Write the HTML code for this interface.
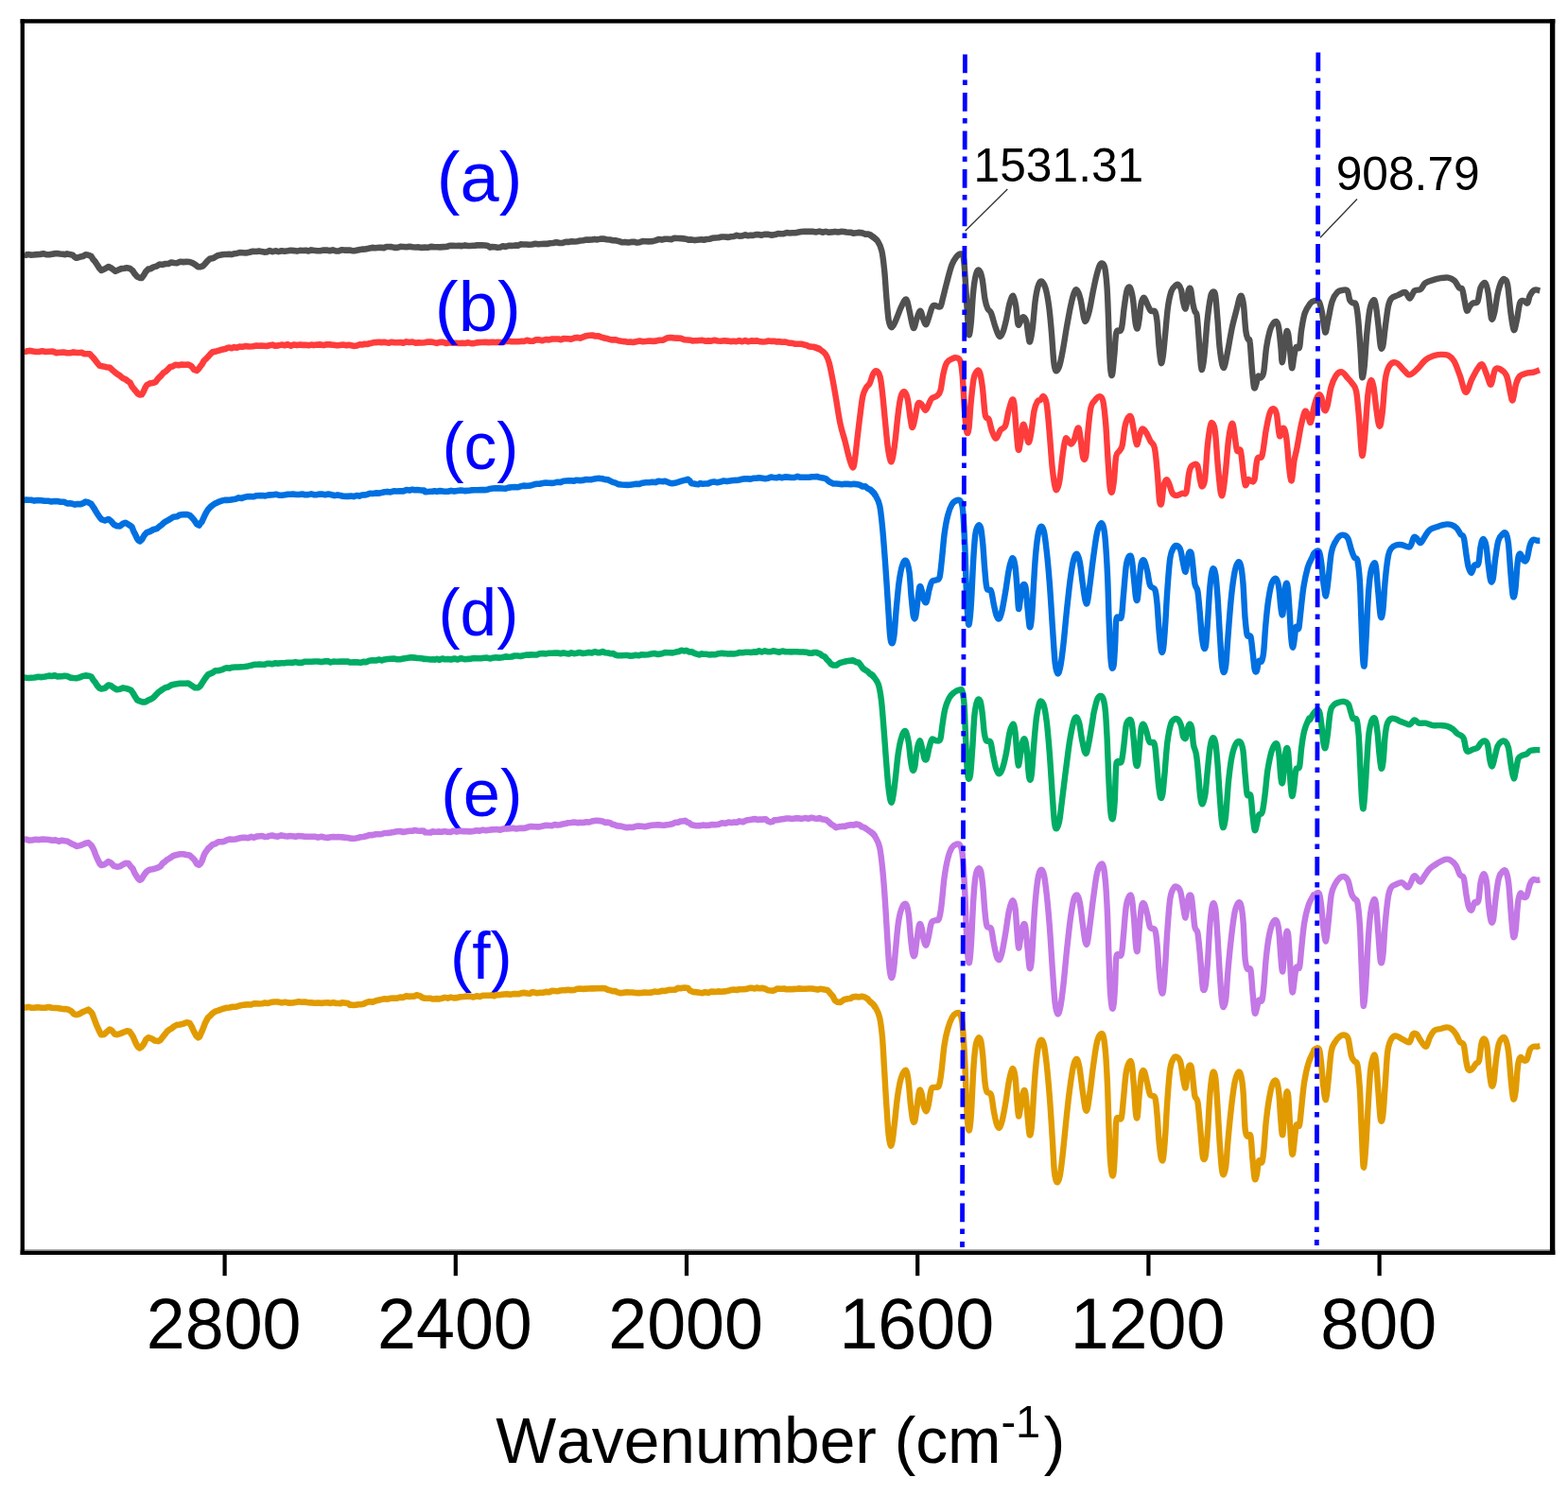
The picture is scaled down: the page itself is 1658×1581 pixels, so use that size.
<!DOCTYPE html>
<html lang="en"><head><meta charset="utf-8"><title>FTIR spectra</title>
<style>
html,body{margin:0;padding:0;background:#fff;}
body{width:1658px;height:1581px;overflow:hidden;}
svg{display:block;}
text{font-family:"Liberation Sans",Arial,sans-serif;font-kerning:none;}
.tk{font-size:73.6px;fill:#000;text-anchor:middle;}
.lb{font-size:74px;fill:#0000ff;text-anchor:middle;}
.an{font-size:49.7px;fill:#000;}
.ax{font-size:67.7px;fill:#000;}
.cv{fill:none;stroke-linejoin:round;stroke-linecap:butt;}
</style></head>
<body>
<svg width="1658" height="1581" viewBox="0 0 1658 1581">
<rect x="0" y="0" width="1658" height="1581" fill="#fff"/>
<defs><clipPath id="plot"><rect x="26" y="24" width="1613" height="1298"/></clipPath></defs>
<g>
<text class="lb" style="font-size:74px" x="507.1" y="212.8">(a)</text>
<text class="lb" style="font-size:69.5px" x="508" y="495.9">(c)</text>
<text class="lb" style="font-size:69.5px" x="505.9" y="672.2">(d)</text>
<text class="lb" style="font-size:70.5px" x="509.3" y="862.6">(e)</text>
<text class="lb" style="font-size:69.5px" x="508.8" y="1035.1">(f)</text>
</g>
<g clip-path="url(#plot)">
<path class="cv" stroke="#e19b00" stroke-width="6.6" d="M25.6 1064.9L27.6 1065.5L30.1 1064.9L33.2 1065.7L36.6 1065.6L40.3 1065.3L44.1 1065.7L47.9 1065.7L51.5 1065.0L54.9 1065.8L57.9 1066.0L60.3 1066.0L65.0 1066.8L68.0 1067.1L70.1 1067.1L72.4 1067.7L75.4 1069.3L78.1 1072.3L80.8 1073.1L84.1 1072.2L87.5 1070.1L90.5 1069.0L93.4 1067.6L96.5 1070.5L97.6 1072.1L98.9 1075.7L100.2 1079.1L101.6 1082.9L103.0 1086.0L104.4 1089.1L105.8 1092.1L107.1 1094.3L110.2 1093.9L113.3 1090.9L116.1 1088.5L118.6 1090.0L121.0 1093.5L123.6 1094.1L127.1 1093.1L131.0 1091.5L134.2 1090.3L136.9 1090.8L139.3 1094.1L140.8 1096.5L142.4 1100.4L144.2 1104.4L146.0 1107.2L147.8 1108.4L150.0 1106.8L152.2 1103.8L154.4 1099.2L156.8 1097.2L160.3 1098.3L163.9 1100.6L167.4 1101.1L169.7 1099.9L171.9 1096.9L174.1 1094.2L176.4 1091.1L178.9 1088.9L181.4 1087.6L184.1 1085.4L187.0 1083.9L190.3 1083.5L193.9 1082.6L197.4 1081.2L200.5 1081.9L202.6 1085.5L204.4 1089.4L206.1 1092.8L207.8 1095.8L209.6 1097.3L211.0 1096.4L212.4 1093.0L213.8 1090.0L215.2 1086.6L216.8 1082.2L218.4 1079.0L220.1 1076.0L222.5 1073.9L224.8 1071.5L227.5 1069.7L230.8 1068.7L235.2 1067.0L237.5 1066.3L240.1 1065.7L242.9 1065.5L245.9 1064.8L249.1 1064.8L252.4 1063.8L255.7 1063.1L259.0 1062.6L262.3 1062.3L265.5 1062.5L268.5 1061.3L271.4 1061.4L274.5 1061.5L277.3 1061.3L280.0 1060.5L282.5 1060.9L285.0 1060.4L287.6 1059.7L290.5 1059.5L293.7 1059.5L297.4 1060.4L301.6 1059.8L304.0 1060.4L306.6 1060.6L309.4 1060.5L312.5 1059.9L315.7 1059.3L319.0 1059.7L322.4 1059.6L325.8 1060.3L329.3 1060.4L332.9 1060.7L336.3 1060.5L339.8 1060.9L343.1 1060.5L346.4 1060.3L349.5 1060.9L352.4 1060.2L355.2 1061.0L357.7 1061.0L359.9 1061.3L361.9 1060.2L367.9 1061.0L370.0 1062.9L371.0 1062.4L373.9 1062.9L376.2 1062.8L378.7 1062.2L381.4 1062.3L384.3 1061.8L387.4 1060.2L390.6 1059.2L394.0 1059.6L397.5 1058.3L401.1 1057.5L403.8 1056.9L406.7 1056.3L409.8 1056.6L413.0 1055.7L416.4 1055.6L419.8 1055.7L423.1 1054.6L426.4 1054.9L429.6 1053.3L432.6 1053.9L435.5 1053.6L438.0 1053.7L440.3 1052.3L444.0 1053.2L445.4 1054.0L446.5 1055.0L449.2 1055.7L455.4 1055.7L457.3 1056.5L459.5 1056.4L462.0 1056.1L464.6 1056.4L467.4 1055.7L470.3 1054.9L473.4 1055.6L476.6 1054.6L479.9 1055.4L483.3 1055.1L486.7 1054.2L490.2 1054.0L493.6 1053.6L497.1 1053.6L500.6 1054.5L504.0 1053.3L507.4 1054.0L510.7 1052.7L513.9 1052.8L516.9 1052.8L519.9 1052.5L522.6 1053.2L525.2 1052.0L529.0 1052.1L532.6 1051.5L536.1 1051.2L539.5 1051.8L542.7 1051.1L545.8 1051.1L548.9 1051.2L551.8 1050.1L554.6 1049.9L557.4 1050.5L560.1 1050.8L562.8 1049.2L565.4 1049.6L567.9 1050.2L570.5 1049.8L574.1 1049.8L577.5 1048.9L580.7 1049.2L583.8 1047.7L586.7 1048.0L589.5 1048.3L592.3 1047.5L595.0 1047.3L597.8 1047.1L600.6 1046.8L603.8 1047.1L607.1 1047.0L610.3 1045.7L613.6 1045.5L616.7 1045.9L619.7 1045.6L622.6 1045.5L625.3 1045.2L627.8 1045.4L631.5 1045.3L634.5 1045.3L637.2 1045.1L639.8 1045.3L642.8 1046.8L645.4 1047.4L647.8 1048.1L650.2 1048.0L653.0 1049.4L656.5 1050.3L660.9 1049.5L663.3 1049.3L665.9 1049.5L668.8 1049.5L671.9 1050.0L675.1 1050.1L678.5 1049.9L681.9 1049.6L685.3 1049.8L688.7 1049.6L691.9 1048.6L695.1 1049.0L698.0 1048.5L700.7 1047.7L703.2 1048.0L707.3 1046.9L711.0 1046.7L714.1 1046.6L716.9 1044.9L719.4 1045.2L721.8 1044.7L724.3 1044.5L727.5 1045.1L729.6 1047.5L732.5 1048.9L737.8 1049.4L740.1 1049.8L742.7 1050.1L745.6 1049.1L748.8 1049.9L752.2 1048.6L755.7 1048.9L759.2 1048.4L762.8 1048.7L766.4 1048.4L769.8 1047.8L773.2 1046.8L776.2 1046.6L779.1 1047.0L781.6 1046.3L785.8 1046.2L789.5 1045.9L792.7 1044.9L795.5 1044.9L798.0 1045.5L800.3 1044.5L802.7 1045.3L806.3 1044.9L809.3 1045.7L811.9 1047.3L814.7 1047.5L817.0 1047.7L818.9 1047.3L821.7 1045.5L826.8 1045.7L829.0 1045.5L831.5 1046.2L834.5 1046.1L837.6 1046.1L841.0 1045.9L844.5 1045.4L848.1 1045.8L851.7 1045.7L855.2 1045.5L858.5 1045.5L861.6 1046.1L864.5 1046.6L867.0 1045.8L869.0 1046.1L874.6 1046.9L876.4 1048.7L878.1 1050.7L880.6 1053.4L882.9 1057.9L885.6 1059.7L888.7 1059.9L892.2 1057.3L896.2 1056.3L899.0 1056.0L902.2 1054.2L905.5 1053.9L908.6 1054.4L911.3 1053.7L914.8 1054.7L917.5 1056.4L920.0 1059.4L923.5 1062.3L925.8 1066.0"/>
<path class="cv" stroke="#e19b00" stroke-width="6.4" d="M920.0 1058.9C921.0 1060.0 924.1 1062.5 925.8 1065.5C927.5 1068.4 929.0 1070.9 930.2 1076.4C931.4 1081.8 932.2 1088.5 933.1 1098.2C933.9 1107.9 934.5 1122.4 935.3 1134.5C936.0 1146.7 936.7 1160.0 937.5 1170.9C938.2 1181.8 938.9 1193.2 939.6 1200.0C940.4 1206.8 941.1 1210.9 941.8 1211.6C942.5 1212.4 943.3 1208.7 944.0 1204.4C944.7 1200.0 945.3 1193.0 946.2 1185.5C947.0 1177.9 948.0 1166.8 949.1 1159.3C950.2 1151.8 951.3 1145.0 952.7 1140.4C954.1 1135.8 956.2 1131.4 957.5 1131.6C958.8 1131.9 959.5 1135.8 960.4 1141.8C961.3 1147.9 962.1 1161.0 962.9 1168.0C963.7 1175.0 964.4 1181.1 965.1 1184.0C965.8 1186.9 966.5 1187.6 967.3 1185.5C968.0 1183.3 968.7 1176.2 969.5 1170.9C970.3 1165.6 971.2 1155.9 972.1 1153.5C972.9 1151.0 973.8 1153.7 974.5 1156.4C975.3 1159.0 975.9 1166.3 976.7 1169.5C977.5 1172.6 978.5 1175.5 979.3 1175.3C980.2 1175.0 980.9 1171.9 981.8 1168.0C982.7 1164.1 983.6 1155.0 984.7 1152.0C985.8 1149.0 987.0 1150.4 988.4 1149.8C989.7 1149.2 991.6 1150.9 992.7 1148.4C993.9 1145.8 994.4 1141.7 995.3 1134.5C996.3 1127.4 997.4 1113.2 998.5 1105.5C999.7 1097.7 1000.8 1092.8 1002.2 1088.0C1003.5 1083.2 1005.0 1079.2 1006.5 1076.4C1008.1 1073.6 1010.2 1071.9 1011.6 1071.3C1013.1 1070.7 1014.3 1070.7 1015.3 1072.7C1016.3 1074.8 1016.9 1075.8 1017.7 1083.6C1018.5 1091.5 1019.4 1106.7 1020.1 1120.0C1020.8 1133.3 1021.3 1152.2 1021.8 1163.6C1022.4 1175.0 1022.7 1183.2 1023.3 1188.4C1023.8 1193.6 1024.4 1196.6 1025.0 1194.9C1025.6 1193.2 1026.2 1188.2 1026.9 1178.2C1027.6 1168.1 1028.4 1146.2 1029.1 1134.5C1029.8 1122.9 1030.4 1114.4 1031.3 1108.4C1032.1 1102.3 1033.2 1099.5 1034.2 1098.2C1035.2 1096.8 1036.2 1097.2 1037.1 1100.4C1037.9 1103.5 1038.5 1109.7 1039.3 1117.1C1040.0 1124.5 1040.7 1138.4 1041.5 1144.7C1042.2 1151.0 1042.5 1152.7 1043.6 1154.9C1044.7 1157.1 1046.8 1154.4 1048.0 1157.8C1049.2 1161.2 1049.9 1170.2 1050.9 1175.3C1051.9 1180.4 1052.8 1185.5 1053.8 1188.4C1054.8 1191.3 1055.8 1193.2 1056.7 1192.7C1057.7 1192.2 1058.5 1189.8 1059.6 1185.5C1060.7 1181.1 1062.1 1173.6 1063.3 1166.5C1064.5 1159.5 1065.7 1149.3 1066.9 1143.3C1068.1 1137.2 1069.5 1130.9 1070.5 1130.2C1071.6 1129.5 1072.7 1133.3 1073.5 1138.9C1074.3 1144.5 1074.7 1156.7 1075.3 1163.6C1076.0 1170.5 1076.4 1179.4 1077.1 1180.4C1077.7 1181.3 1078.5 1173.5 1079.3 1169.5C1080.0 1165.5 1080.7 1158.8 1081.5 1156.4C1082.3 1153.9 1083.2 1151.0 1084.1 1154.9C1084.9 1158.8 1085.8 1172.1 1086.5 1179.6C1087.3 1187.2 1088.0 1198.1 1088.7 1200.0C1089.5 1201.9 1090.2 1198.5 1090.9 1191.3C1091.6 1184.0 1092.4 1167.0 1093.1 1156.4C1093.8 1145.7 1094.4 1135.8 1095.3 1127.3C1096.1 1118.8 1097.2 1110.1 1098.2 1105.5C1099.2 1100.8 1100.1 1099.6 1101.1 1099.6C1102.1 1099.6 1103.0 1100.8 1104.0 1105.5C1105.0 1110.1 1105.9 1118.3 1106.9 1127.3C1107.9 1136.2 1108.8 1146.7 1109.8 1159.3C1110.8 1171.9 1111.9 1189.6 1112.7 1202.9C1113.6 1216.2 1114.1 1231.4 1114.9 1239.3C1115.7 1247.2 1116.6 1249.5 1117.5 1250.2C1118.5 1250.9 1119.7 1248.4 1120.7 1243.6C1121.7 1238.9 1122.5 1231.5 1123.6 1221.8C1124.7 1212.1 1126.1 1196.8 1127.3 1185.5C1128.5 1174.1 1129.6 1163.2 1130.9 1153.5C1132.2 1143.8 1133.7 1132.8 1135.0 1127.3C1136.2 1121.7 1137.4 1119.8 1138.5 1120.0C1139.5 1120.2 1140.3 1123.2 1141.4 1128.7C1142.4 1134.3 1143.7 1146.2 1144.7 1153.5C1145.8 1160.7 1146.8 1169.2 1147.6 1172.4C1148.5 1175.5 1149.0 1175.5 1149.8 1172.4C1150.7 1169.2 1151.6 1161.5 1152.7 1153.5C1153.8 1145.5 1155.1 1133.1 1156.4 1124.4C1157.6 1115.6 1158.8 1106.3 1160.2 1101.1C1161.5 1095.9 1163.4 1093.6 1164.5 1093.1C1165.7 1092.6 1166.4 1094.4 1167.2 1098.2C1167.9 1101.9 1168.5 1107.2 1169.2 1115.6C1169.9 1124.1 1170.5 1136.2 1171.1 1149.1C1171.6 1161.9 1172.1 1179.9 1172.5 1192.7C1173.0 1205.6 1173.4 1217.9 1174.0 1226.2C1174.6 1234.4 1175.3 1240.0 1175.9 1242.2C1176.5 1244.4 1177.1 1243.9 1177.6 1239.3C1178.2 1234.7 1178.6 1223.8 1179.1 1214.5C1179.6 1205.3 1179.5 1189.3 1180.5 1184.0C1181.6 1178.7 1184.4 1185.9 1185.6 1182.5C1186.8 1179.2 1187.0 1171.6 1187.8 1163.6C1188.7 1155.6 1189.6 1141.3 1190.7 1134.5C1191.8 1127.8 1193.3 1124.4 1194.4 1122.9C1195.4 1121.5 1196.1 1121.5 1196.8 1125.8C1197.6 1130.2 1198.3 1140.6 1199.0 1149.1C1199.7 1157.6 1200.3 1171.4 1200.9 1176.7C1201.5 1182.1 1202.0 1184.0 1202.7 1181.1C1203.3 1178.2 1203.8 1166.8 1204.5 1159.3C1205.3 1151.8 1206.1 1140.4 1207.0 1136.0C1207.9 1131.6 1208.9 1131.4 1209.9 1133.1C1211.0 1134.8 1212.2 1142.1 1213.3 1146.2C1214.3 1150.3 1214.8 1155.4 1216.2 1157.8C1217.5 1160.2 1220.1 1157.3 1221.3 1160.7C1222.5 1164.1 1222.7 1170.4 1223.5 1178.2C1224.2 1185.9 1224.9 1199.5 1225.6 1207.3C1226.4 1215.0 1227.1 1221.8 1227.8 1224.7C1228.5 1227.6 1229.3 1228.8 1230.0 1224.7C1230.7 1220.6 1231.5 1210.2 1232.2 1200.0C1232.9 1189.8 1233.5 1175.3 1234.4 1163.6C1235.2 1152.0 1236.2 1137.6 1237.3 1130.2C1238.4 1122.8 1239.7 1121.3 1240.9 1119.3C1242.1 1117.2 1243.3 1117.2 1244.5 1117.8C1245.8 1118.4 1247.1 1119.2 1248.2 1122.9C1249.3 1126.7 1250.2 1135.8 1251.1 1140.4C1252.0 1145.0 1252.8 1151.3 1253.6 1150.5C1254.3 1149.8 1254.8 1139.9 1255.5 1136.0C1256.1 1132.1 1256.6 1128.5 1257.3 1127.3C1258.1 1126.1 1259.1 1125.8 1259.8 1128.7C1260.5 1131.6 1261.1 1139.6 1261.7 1144.7C1262.3 1149.8 1262.7 1155.9 1263.5 1159.3C1264.2 1162.7 1265.5 1160.7 1266.4 1165.1C1267.2 1169.5 1267.8 1177.7 1268.5 1185.5C1269.3 1193.2 1270.1 1205.1 1270.7 1211.6C1271.3 1218.2 1271.5 1223.0 1272.2 1224.7C1272.9 1226.4 1274.0 1227.2 1274.8 1221.8C1275.6 1216.5 1276.5 1203.6 1277.3 1192.7C1278.0 1181.8 1278.6 1166.1 1279.5 1156.4C1280.3 1146.7 1281.4 1137.2 1282.4 1134.5C1283.3 1131.9 1284.4 1134.3 1285.3 1140.4C1286.1 1146.4 1286.7 1159.8 1287.5 1170.9C1288.2 1182.1 1288.9 1196.6 1289.6 1207.3C1290.4 1217.9 1291.1 1229.1 1291.8 1234.9C1292.5 1240.7 1293.0 1242.4 1293.7 1242.2C1294.4 1241.9 1295.4 1239.3 1296.2 1233.5C1297.0 1227.6 1297.4 1217.7 1298.4 1207.3C1299.3 1196.8 1300.8 1181.3 1302.0 1170.9C1303.2 1160.5 1304.4 1150.9 1305.6 1144.7C1306.9 1138.5 1308.5 1134.8 1309.7 1133.8C1310.9 1132.8 1311.8 1135.2 1312.6 1138.9C1313.4 1142.7 1314.0 1147.4 1314.7 1156.4C1315.3 1165.3 1315.9 1185.2 1316.5 1192.7C1317.2 1200.2 1317.8 1200.0 1318.7 1201.5C1319.7 1202.9 1321.4 1197.3 1322.4 1201.5C1323.3 1205.6 1323.8 1218.7 1324.5 1226.2C1325.3 1233.7 1326.0 1243.9 1326.7 1246.5C1327.5 1249.2 1328.2 1245.3 1328.9 1242.2C1329.6 1239.0 1330.2 1229.8 1331.1 1227.6C1332.0 1225.5 1333.5 1231.3 1334.4 1229.1C1335.3 1226.9 1335.7 1221.8 1336.5 1214.5C1337.2 1207.3 1337.9 1193.9 1338.8 1185.5C1339.7 1177.0 1340.6 1170.2 1341.7 1163.6C1342.8 1157.1 1344.3 1149.6 1345.6 1146.2C1346.9 1142.8 1348.5 1141.8 1349.6 1143.3C1350.7 1144.7 1351.4 1147.9 1352.2 1154.9C1353.0 1161.9 1353.7 1177.9 1354.4 1185.5C1355.0 1193.0 1355.6 1201.9 1356.3 1200.0C1356.9 1198.1 1357.6 1181.1 1358.3 1173.8C1358.9 1166.5 1359.6 1159.0 1360.2 1156.4C1360.8 1153.7 1361.5 1153.0 1362.1 1157.8C1362.7 1162.7 1363.2 1176.0 1363.8 1185.5C1364.4 1194.9 1365.0 1208.7 1365.6 1214.5C1366.1 1220.4 1366.5 1222.1 1367.0 1220.4C1367.6 1218.7 1368.3 1209.5 1368.9 1204.4C1369.5 1199.3 1370.0 1192.2 1370.8 1189.8C1371.6 1187.4 1373.1 1193.0 1374.0 1189.8C1374.9 1186.7 1375.3 1178.4 1376.2 1170.9C1377.0 1163.4 1377.9 1152.5 1379.1 1144.7C1380.3 1137.0 1381.9 1129.7 1383.5 1124.4C1385.0 1119.0 1387.5 1115.1 1388.5 1112.7C1389.6 1110.3 1388.8 1110.6 1389.8 1110.0C1390.8 1109.4 1393.4 1106.8 1394.7 1109.2C1395.9 1111.7 1396.3 1117.8 1397.1 1124.7C1397.9 1131.6 1398.7 1144.4 1399.5 1150.7C1400.4 1157.1 1401.2 1164.0 1402.0 1162.9C1402.8 1161.9 1403.5 1152.8 1404.4 1144.2C1405.4 1135.7 1406.5 1118.7 1407.7 1111.7C1408.9 1104.6 1410.3 1104.5 1411.8 1101.9C1413.2 1099.3 1415.0 1097.4 1416.6 1096.2C1418.3 1095.0 1420.0 1094.1 1421.5 1094.6C1423.0 1095.0 1424.4 1095.0 1425.6 1098.6C1426.8 1102.3 1427.8 1112.6 1428.9 1116.5C1429.9 1120.5 1431.0 1120.6 1432.1 1122.2C1433.2 1123.9 1434.4 1121.6 1435.4 1126.3C1436.3 1131.1 1437.1 1140.7 1437.8 1150.7C1438.5 1160.8 1438.9 1174.1 1439.4 1186.6C1440.0 1199.0 1440.6 1217.8 1441.1 1225.6C1441.5 1233.5 1441.7 1236.2 1442.2 1233.8C1442.8 1231.3 1443.6 1222.1 1444.3 1211.0C1445.1 1199.9 1446.0 1180.3 1446.8 1167.0C1447.6 1153.7 1448.3 1139.6 1449.2 1131.2C1450.2 1122.8 1451.5 1118.2 1452.5 1116.5C1453.4 1114.9 1454.1 1115.2 1454.9 1121.4C1455.7 1127.7 1456.5 1143.7 1457.4 1154.0C1458.2 1164.3 1459.0 1179.0 1459.8 1183.3C1460.6 1187.6 1461.4 1186.0 1462.2 1180.0C1463.1 1174.1 1463.9 1158.6 1464.7 1147.5C1465.5 1136.4 1466.2 1121.2 1467.1 1113.3C1468.1 1105.4 1469.0 1103.2 1470.4 1100.3C1471.7 1097.3 1473.5 1095.8 1475.3 1095.4C1477.0 1095.0 1479.1 1096.9 1481.0 1097.8C1482.9 1098.8 1485.0 1100.4 1486.7 1101.1C1488.3 1101.7 1489.5 1103.1 1490.7 1101.9C1492.0 1100.7 1492.8 1095.1 1494.0 1093.7C1495.2 1092.4 1496.7 1092.7 1498.1 1093.7C1499.4 1094.8 1500.5 1098.1 1502.1 1100.3C1503.8 1102.4 1506.2 1107.3 1507.8 1106.8C1509.5 1106.2 1510.4 1099.8 1511.9 1097.0C1513.4 1094.1 1514.9 1091.2 1516.8 1089.7C1518.7 1088.2 1521.1 1088.6 1523.3 1088.0C1525.5 1087.5 1527.9 1086.4 1529.8 1086.4C1531.7 1086.4 1533.1 1086.8 1534.7 1088.0C1536.3 1089.3 1538.1 1091.4 1539.6 1093.7C1541.1 1096.0 1542.3 1100.0 1543.7 1101.9C1545.0 1103.8 1546.6 1101.9 1547.7 1105.1C1548.8 1108.4 1549.4 1117.1 1550.2 1121.4C1551.0 1125.8 1551.5 1129.7 1552.6 1131.2C1553.7 1132.7 1555.3 1131.5 1556.7 1130.4C1558.0 1129.3 1559.5 1126.2 1560.8 1124.7C1562.0 1123.2 1563.1 1125.0 1564.0 1121.4C1565.0 1117.9 1565.6 1107.3 1566.5 1103.5C1567.3 1099.7 1568.3 1098.4 1569.2 1098.6C1570.2 1098.9 1571.3 1099.7 1572.2 1105.1C1573.1 1110.6 1573.8 1124.1 1574.6 1131.2C1575.4 1138.3 1576.2 1145.3 1577.0 1147.5C1577.9 1149.7 1578.7 1148.6 1579.5 1144.2C1580.3 1139.9 1581.0 1128.2 1581.9 1121.4C1582.8 1114.6 1583.8 1107.4 1584.9 1103.5C1585.9 1099.6 1587.3 1098.6 1588.4 1097.8C1589.6 1097.0 1590.6 1096.3 1591.7 1098.6C1592.8 1100.9 1593.9 1104.1 1595.0 1111.7C1596.0 1119.3 1597.0 1135.8 1597.9 1144.2C1598.8 1152.6 1599.4 1160.5 1600.2 1162.1C1601.0 1163.8 1601.8 1160.0 1602.6 1154.0C1603.4 1148.0 1604.2 1132.3 1605.1 1126.3C1605.9 1120.3 1606.6 1119.0 1607.7 1118.2C1608.7 1117.4 1610.1 1121.0 1611.2 1121.4C1612.4 1121.8 1613.4 1122.5 1614.5 1120.6C1615.6 1118.7 1616.6 1112.3 1617.8 1110.0C1618.9 1107.7 1620.1 1107.3 1621.3 1106.8C1622.6 1106.2 1623.9 1106.9 1625.1 1106.8C1626.3 1106.6 1627.8 1106.1 1628.3 1106.0"/>
<path class="cv" stroke="#c378e6" stroke-width="6.6" d="M25.6 888.1L27.7 887.6L30.5 888.6L33.8 888.5L37.5 887.8L41.4 888.1L45.2 887.6L48.3 887.8L51.6 888.0L55.1 888.8L58.6 888.4L62.1 889.7L65.4 888.8L68.3 889.3L70.9 889.5L75.6 892.2L78.6 893.6L81.4 894.9L84.7 894.1L87.7 893.0L90.5 891.8L93.4 891.1L96.5 893.9L97.8 896.0L99.3 898.9L100.9 903.5L102.5 907.1L104.1 910.6L105.7 913.8L107.1 915.0L110.9 914.0L114.6 911.1L117.5 912.7L120.6 915.9L123.6 916.6L126.8 916.3L129.9 914.3L132.7 912.8L135.7 913.0L138.7 916.9L140.4 918.6L142.2 922.9L144.1 926.1L146.0 929.0L147.8 930.7L149.7 929.6L151.3 926.8L153.1 924.1L155.3 921.5L158.1 919.7L161.2 919.3L164.5 918.4L167.4 917.3L169.8 916.0L172.0 913.0L174.1 911.5L176.4 909.4L179.7 907.5L183.2 905.0L187.0 904.0L190.2 903.3L193.8 903.2L197.3 903.9L200.5 904.5L203.3 906.9L205.8 909.6L208.1 913.6L210.5 914.6L212.1 913.3L213.5 910.6L215.0 906.3L216.5 902.6L218.2 900.1L220.1 897.4L222.5 895.4L224.8 893.1L227.4 892.4L230.8 890.2L235.2 890.2L237.5 889.6L240.1 888.3L242.9 887.5L245.9 887.7L249.1 887.5L252.4 886.6L255.7 885.9L259.0 885.8L262.3 886.3L265.5 884.9L268.5 885.8L271.4 884.6L274.5 884.3L277.3 884.0L280.0 885.0L282.5 884.8L285.0 883.9L287.6 883.5L290.5 884.3L293.7 884.6L297.4 883.4L301.6 884.3L304.0 884.6L306.6 884.1L309.4 884.3L312.5 884.7L315.7 884.0L319.0 884.2L322.4 884.8L325.8 884.7L329.3 884.8L332.9 884.7L336.3 885.6L339.8 884.8L343.1 885.5L346.4 885.9L349.5 885.3L352.4 884.9L355.2 885.3L357.7 885.1L359.9 885.3L361.9 885.4L367.9 886.0L370.0 886.4L371.0 886.7L373.9 886.7L376.2 886.5L378.7 886.1L381.3 885.2L384.1 885.0L387.2 884.3L390.4 883.1L393.8 883.1L397.3 882.2L401.1 882.2L403.7 882.0L406.6 881.0L409.7 880.9L412.9 880.6L416.3 880.0L419.7 879.3L423.1 879.0L426.5 880.0L429.8 879.3L433.0 878.7L436.0 878.7L438.7 878.0L441.2 878.5L443.3 878.7L447.3 878.6L448.2 878.8L449.7 880.3L455.4 880.5L457.3 879.2L459.4 879.7L461.8 879.7L464.4 879.4L467.2 879.8L470.1 879.1L473.2 879.8L476.4 879.9L479.7 878.7L483.0 879.4L486.5 878.7L490.0 879.1L493.5 879.1L497.0 879.4L500.5 879.0L503.9 878.2L507.3 878.6L510.6 877.6L513.8 878.3L516.9 877.7L519.9 877.4L522.6 877.2L525.2 877.1L529.0 877.7L532.6 876.5L536.1 876.4L539.5 876.1L542.7 875.8L545.8 876.4L548.9 875.9L551.8 875.8L554.6 875.9L557.4 875.0L560.1 874.1L562.8 874.1L565.4 874.3L567.9 874.4L570.5 874.4L574.1 873.5L577.5 872.8L580.6 873.0L583.6 873.2L586.5 872.0L589.3 872.6L592.1 872.2L594.8 871.5L597.7 871.1L600.6 870.3L603.7 870.0L606.9 869.6L610.2 870.1L613.6 869.9L616.8 870.0L620.0 869.2L623.1 869.5L625.9 868.5L628.5 868.0L630.8 867.8L634.9 868.1L637.6 868.8L639.8 869.9L642.8 869.6L645.2 870.2L647.5 871.8L650.0 872.3L652.9 873.4L656.5 873.6L660.9 874.9L663.3 875.1L665.9 874.8L668.8 875.0L671.9 874.1L675.1 873.5L678.5 873.7L681.9 874.3L685.3 873.5L688.7 872.8L691.9 872.5L695.1 872.3L698.0 872.4L700.7 872.8L703.2 872.6L707.4 871.9L711.0 871.2L714.2 869.7L717.0 869.8L719.5 868.5L721.9 868.5L724.3 867.8L727.1 869.7L728.8 870.2L731.2 872.3L736.3 873.2L738.4 873.1L740.9 873.1L743.6 872.5L746.6 872.9L749.7 872.8L753.1 872.1L756.5 872.3L759.9 871.8L763.4 870.3L766.8 870.8L770.2 869.6L773.3 870.1L776.3 869.4L779.1 869.8L781.6 868.4L785.7 869.2L789.4 867.4L792.8 866.9L795.9 866.4L798.7 866.1L801.2 867.0L803.5 866.5L805.7 866.6L809.7 866.3L812.1 868.5L814.7 869.4L816.8 868.9L818.7 867.4L821.6 867.3L826.8 866.3L829.0 866.1L831.5 865.5L834.3 865.5L837.5 865.9L840.8 865.4L844.2 865.3L847.7 865.9L851.2 865.1L854.7 865.8L858.1 864.7L861.2 865.4L864.2 865.8L866.8 865.0L869.0 866.3L873.7 867.0L876.7 869.5L878.9 871.6L881.1 872.8L884.1 875.1L886.9 874.3L890.1 873.9L893.5 873.9L896.9 872.7L900.1 872.2L902.9 872.6L905.2 871.5L909.0 872.5L911.3 874.4L914.1 875.2L917.2 877.4L920.0 879.4L923.5 882.0L925.8 884.9"/>
<path class="cv" stroke="#c378e6" stroke-width="6.4" d="M920.0 878.9C921.0 880.0 924.1 882.5 925.8 885.5C927.5 888.4 929.0 890.9 930.2 896.4C931.4 901.8 932.1 908.5 933.1 918.2C934.1 927.9 935.2 942.4 936.0 954.5C936.8 966.7 937.5 979.5 938.2 990.9C938.9 1002.3 939.6 1015.8 940.4 1022.9C941.1 1030.1 941.8 1033.1 942.5 1033.8C943.3 1034.5 944.0 1032.0 944.7 1027.3C945.5 1022.5 946.1 1013.9 946.9 1005.5C947.8 997.0 948.7 983.9 949.8 976.4C950.9 968.8 952.1 963.8 953.5 960.4C954.8 957.0 956.6 955.0 957.8 956.0C959.0 957.0 959.9 960.4 960.7 966.2C961.6 972.0 962.2 983.9 962.9 990.9C963.6 997.9 964.4 1005.2 965.1 1008.4C965.8 1011.5 966.5 1012.2 967.3 1009.8C968.0 1007.4 968.7 999.2 969.5 993.8C970.3 988.5 971.2 980.0 972.1 977.8C972.9 975.6 973.8 978.1 974.5 980.7C975.3 983.4 975.9 990.7 976.7 993.8C977.5 997.0 978.5 1000.1 979.3 999.6C980.2 999.2 980.9 994.8 981.8 990.9C982.7 987.0 983.6 979.3 984.7 976.4C985.8 973.5 987.0 974.2 988.4 973.5C989.7 972.7 991.6 974.4 992.7 972.0C993.9 969.6 994.4 966.2 995.3 958.9C996.3 951.6 997.4 936.8 998.5 928.4C999.7 919.9 1000.8 913.3 1002.2 908.0C1003.5 902.7 1005.0 898.9 1006.5 896.4C1008.1 893.8 1010.2 893.1 1011.6 892.7C1013.1 892.4 1014.3 892.4 1015.3 894.2C1016.3 896.0 1016.9 896.0 1017.7 903.6C1018.5 911.3 1019.4 926.7 1020.1 940.0C1020.8 953.3 1021.3 972.0 1021.8 983.6C1022.4 995.3 1022.7 1004.1 1023.3 1009.8C1023.8 1015.5 1024.4 1019.8 1025.0 1017.8C1025.6 1015.9 1026.2 1008.7 1026.9 998.2C1027.6 987.6 1028.4 966.2 1029.1 954.5C1029.8 942.9 1030.4 934.3 1031.3 928.4C1032.1 922.4 1033.2 920.1 1034.2 918.9C1035.2 917.7 1036.2 918.1 1037.1 921.1C1037.9 924.1 1038.5 929.8 1039.3 937.1C1040.0 944.4 1040.7 957.7 1041.5 964.7C1042.2 971.8 1042.5 976.4 1043.6 979.3C1044.7 982.2 1046.8 979.0 1048.0 982.2C1049.2 985.3 1049.9 993.3 1050.9 998.2C1051.9 1003.0 1052.8 1008.5 1053.8 1011.3C1054.8 1014.1 1055.8 1015.6 1056.7 1014.9C1057.7 1014.2 1058.5 1011.6 1059.6 1006.9C1060.7 1002.2 1062.1 993.8 1063.3 986.5C1064.5 979.3 1065.7 969.0 1066.9 963.3C1068.1 957.6 1069.5 952.8 1070.5 952.4C1071.6 951.9 1072.7 955.2 1073.5 960.4C1074.3 965.6 1074.7 976.6 1075.3 983.6C1076.0 990.7 1076.4 1001.3 1077.1 1002.5C1077.7 1003.8 1078.5 994.8 1079.3 990.9C1080.0 987.0 1080.7 981.2 1081.5 979.3C1082.3 977.3 1083.2 975.4 1084.1 979.3C1084.9 983.2 1085.8 995.2 1086.5 1002.5C1087.3 1009.9 1088.0 1021.7 1088.7 1023.6C1089.5 1025.6 1090.2 1022.1 1090.9 1014.2C1091.6 1006.3 1092.4 987.5 1093.1 976.4C1093.8 965.2 1094.4 955.8 1095.3 947.3C1096.1 938.8 1097.2 930.1 1098.2 925.5C1099.2 920.8 1100.1 919.6 1101.1 919.6C1102.1 919.6 1103.0 920.8 1104.0 925.5C1105.0 930.1 1105.9 938.3 1106.9 947.3C1107.9 956.2 1108.8 966.7 1109.8 979.3C1110.8 991.9 1111.8 1009.3 1112.7 1022.9C1113.7 1036.5 1114.7 1052.5 1115.6 1060.7C1116.6 1069.0 1117.6 1071.9 1118.5 1072.4C1119.5 1072.8 1120.5 1068.7 1121.5 1063.6C1122.4 1058.5 1123.3 1051.5 1124.4 1041.8C1125.5 1032.1 1126.8 1016.8 1128.0 1005.5C1129.2 994.1 1130.4 982.4 1131.6 973.5C1132.8 964.5 1134.1 956.1 1135.3 951.6C1136.5 947.2 1137.8 946.1 1138.9 946.5C1140.0 947.0 1140.8 949.6 1141.8 954.5C1142.8 959.5 1143.8 969.5 1144.7 976.4C1145.7 983.3 1146.8 992.6 1147.6 996.0C1148.5 999.4 1149.0 1000.0 1149.8 996.7C1150.7 993.5 1151.6 984.6 1152.7 976.4C1153.8 968.1 1155.1 956.2 1156.4 947.3C1157.6 938.3 1158.8 928.1 1160.2 922.5C1161.5 917.0 1163.4 914.5 1164.5 913.8C1165.7 913.1 1166.4 914.5 1167.2 918.2C1167.9 921.8 1168.5 927.2 1169.2 935.6C1169.9 944.1 1170.5 956.2 1171.1 969.1C1171.6 981.9 1172.1 999.4 1172.5 1012.7C1173.0 1026.1 1173.4 1040.2 1174.0 1049.1C1174.6 1057.9 1175.3 1063.6 1175.9 1065.8C1176.5 1068.0 1177.1 1066.2 1177.6 1062.2C1178.2 1058.2 1178.6 1050.3 1179.1 1041.8C1179.6 1033.3 1179.5 1016.6 1180.5 1011.3C1181.6 1005.9 1184.4 1013.2 1185.6 1009.8C1186.8 1006.4 1187.0 999.4 1187.8 990.9C1188.7 982.4 1189.6 966.2 1190.7 958.9C1191.8 951.6 1193.3 948.7 1194.4 947.3C1195.4 945.8 1196.1 946.3 1196.8 950.2C1197.6 954.1 1198.3 962.5 1199.0 970.5C1199.7 978.5 1200.3 992.4 1200.9 998.2C1201.5 1004.0 1202.0 1007.9 1202.7 1005.5C1203.3 1003.0 1203.8 991.4 1204.5 983.6C1205.3 975.9 1206.1 963.5 1207.0 958.9C1207.9 954.3 1208.9 954.5 1209.9 956.0C1211.0 957.5 1212.2 963.5 1213.3 967.6C1214.3 971.8 1214.8 978.1 1216.2 980.7C1217.5 983.4 1220.1 980.7 1221.3 983.6C1222.5 986.5 1222.7 990.9 1223.5 998.2C1224.2 1005.5 1224.9 1019.0 1225.6 1027.3C1226.4 1035.5 1227.1 1044.2 1227.8 1047.6C1228.5 1051.0 1229.3 1052.2 1230.0 1047.6C1230.7 1043.0 1231.5 1030.7 1232.2 1020.0C1232.9 1009.3 1233.5 995.3 1234.4 983.6C1235.2 972.0 1236.2 957.6 1237.3 950.2C1238.4 942.8 1239.7 941.3 1240.9 939.3C1242.1 937.2 1243.3 937.2 1244.5 937.8C1245.8 938.4 1247.1 939.4 1248.2 942.9C1249.3 946.4 1250.2 954.3 1251.1 958.9C1252.0 963.5 1252.8 971.0 1253.6 970.5C1254.3 970.1 1254.8 959.9 1255.5 956.0C1256.1 952.1 1256.6 948.5 1257.3 947.3C1258.1 946.1 1259.1 945.8 1259.8 948.7C1260.5 951.6 1261.1 959.4 1261.7 964.7C1262.3 970.1 1262.7 977.1 1263.5 980.7C1264.2 984.4 1265.5 982.4 1266.4 986.5C1267.2 990.7 1267.8 997.9 1268.5 1005.5C1269.3 1013.0 1270.1 1024.8 1270.7 1031.6C1271.3 1038.4 1271.5 1044.5 1272.2 1046.2C1272.9 1047.9 1274.0 1047.4 1274.8 1041.8C1275.6 1036.2 1276.5 1023.6 1277.3 1012.7C1278.0 1001.8 1278.6 985.8 1279.5 976.4C1280.3 966.9 1281.4 958.4 1282.4 956.0C1283.3 953.6 1284.4 956.0 1285.3 961.8C1286.1 967.6 1286.7 980.0 1287.5 990.9C1288.2 1001.8 1288.9 1016.4 1289.6 1027.3C1290.4 1038.2 1291.1 1050.1 1291.8 1056.4C1292.5 1062.7 1293.0 1065.1 1293.7 1065.1C1294.4 1065.1 1295.4 1062.7 1296.2 1056.4C1297.0 1050.1 1297.4 1038.2 1298.4 1027.3C1299.3 1016.4 1300.8 1001.3 1302.0 990.9C1303.2 980.5 1304.4 970.8 1305.6 964.7C1306.9 958.7 1308.5 955.5 1309.7 954.5C1310.9 953.6 1311.8 955.3 1312.6 958.9C1313.4 962.5 1314.0 967.4 1314.7 976.4C1315.3 985.3 1315.9 1004.7 1316.5 1012.7C1317.2 1020.7 1317.8 1022.2 1318.7 1024.4C1319.7 1026.5 1321.4 1021.7 1322.4 1025.8C1323.3 1029.9 1323.8 1041.6 1324.5 1049.1C1325.3 1056.6 1326.0 1068.0 1326.7 1070.9C1327.5 1073.8 1328.2 1068.7 1328.9 1066.5C1329.6 1064.4 1330.2 1059.3 1331.1 1057.8C1332.0 1056.4 1333.5 1060.5 1334.4 1057.8C1335.3 1055.2 1335.7 1049.3 1336.5 1041.8C1337.2 1034.3 1337.9 1021.2 1338.8 1012.7C1339.7 1004.2 1340.6 997.0 1341.7 990.9C1342.8 984.8 1344.3 979.3 1345.6 976.4C1346.9 973.5 1348.5 972.2 1349.6 973.5C1350.7 974.7 1351.4 977.1 1352.2 983.6C1353.0 990.2 1353.7 1005.5 1354.4 1012.7C1355.0 1020.0 1355.6 1029.0 1356.3 1027.3C1356.9 1025.6 1357.6 1009.3 1358.3 1002.5C1358.9 995.8 1359.6 989.0 1360.2 986.5C1360.8 984.1 1361.5 983.6 1362.1 988.0C1362.7 992.4 1363.2 1003.8 1363.8 1012.7C1364.4 1021.7 1365.0 1035.8 1365.6 1041.8C1366.1 1047.9 1366.5 1050.3 1367.0 1049.1C1367.6 1047.9 1368.3 1038.9 1368.9 1034.5C1369.5 1030.2 1370.0 1024.8 1370.8 1022.9C1371.6 1021.0 1373.1 1026.3 1374.0 1022.9C1374.9 1019.5 1375.3 1010.3 1376.2 1002.5C1377.0 994.8 1377.9 983.9 1379.1 976.4C1380.3 968.8 1381.9 962.3 1383.5 957.5C1385.0 952.6 1387.5 949.1 1388.5 947.3C1389.6 945.4 1388.8 946.7 1389.8 946.3C1390.8 945.9 1393.4 942.8 1394.7 944.7C1395.9 946.6 1396.3 951.5 1397.1 957.7C1397.9 964.0 1398.7 975.9 1399.5 982.1C1400.4 988.4 1401.2 996.0 1402.0 995.2C1402.8 994.3 1403.5 985.4 1404.4 977.2C1405.4 969.1 1406.5 953.4 1407.7 946.3C1408.9 939.3 1410.3 937.9 1411.8 934.9C1413.2 931.9 1415.0 929.7 1416.6 928.4C1418.3 927.1 1420.0 926.6 1421.5 927.1C1423.0 927.6 1424.4 928.7 1425.6 931.7C1426.8 934.6 1427.8 941.6 1428.9 944.7C1429.9 947.8 1431.0 948.8 1432.1 950.4C1433.2 952.0 1434.4 950.0 1435.4 954.5C1436.3 958.9 1437.1 967.2 1437.8 977.2C1438.5 987.3 1438.9 1001.7 1439.4 1014.7C1440.0 1027.7 1440.6 1047.4 1441.1 1055.4C1441.5 1063.4 1441.7 1065.5 1442.2 1062.7C1442.8 1060.0 1443.6 1050.7 1444.3 1039.1C1445.1 1027.6 1446.0 1005.7 1446.8 993.5C1447.6 981.3 1448.3 972.8 1449.2 965.9C1450.2 958.9 1451.5 953.6 1452.5 952.0C1453.4 950.4 1454.1 950.2 1454.9 956.1C1455.7 961.9 1456.5 977.0 1457.4 987.0C1458.2 997.1 1459.0 1012.3 1459.8 1016.3C1460.6 1020.4 1461.4 1018.0 1462.2 1011.4C1463.1 1004.9 1463.7 987.8 1464.7 977.2C1465.6 966.7 1466.9 954.5 1467.9 947.9C1469.0 941.4 1469.8 940.3 1471.2 938.2C1472.6 936.0 1474.2 936.0 1476.1 935.2C1478.0 934.4 1480.4 932.8 1482.6 933.3C1484.8 933.8 1487.1 939.3 1489.1 938.2C1491.1 937.1 1493.3 928.4 1494.8 926.8C1496.3 925.1 1496.8 927.4 1498.1 928.4C1499.3 929.3 1500.6 933.0 1502.1 932.5C1503.6 931.9 1505.4 927.4 1507.0 925.1C1508.6 922.8 1509.7 920.7 1511.9 918.6C1514.1 916.6 1517.3 914.6 1520.0 912.9C1522.8 911.3 1525.9 909.4 1528.2 908.9C1530.5 908.3 1532.0 908.6 1533.9 909.7C1535.8 910.8 1538.0 912.8 1539.6 915.4C1541.2 917.9 1542.3 923.0 1543.7 925.1C1545.0 927.3 1546.6 925.1 1547.7 928.4C1548.8 931.7 1549.4 939.8 1550.2 944.7C1551.0 949.6 1551.7 954.7 1552.6 957.7C1553.6 960.7 1554.8 963.1 1555.9 962.6C1557.0 962.1 1557.9 956.1 1559.1 954.5C1560.4 952.8 1562.1 956.4 1563.2 952.8C1564.3 949.3 1564.7 938.0 1565.6 933.3C1566.5 928.5 1567.5 924.6 1568.6 924.3C1569.6 924.1 1570.9 926.1 1571.8 931.7C1572.8 937.2 1573.3 950.7 1574.1 957.7C1574.9 964.8 1575.7 971.6 1576.6 974.0C1577.4 976.4 1578.2 976.4 1579.0 972.4C1579.8 968.3 1580.6 956.9 1581.6 949.6C1582.6 942.2 1583.6 933.1 1584.9 928.4C1586.1 923.6 1588.0 922.2 1589.3 921.1C1590.5 920.0 1591.5 919.6 1592.5 921.9C1593.5 924.2 1594.4 927.3 1595.3 934.9C1596.2 942.5 1597.1 958.3 1597.9 967.5C1598.7 976.7 1599.4 987.6 1600.2 990.3C1601.0 993.0 1601.8 989.7 1602.6 983.8C1603.4 977.8 1604.2 961.0 1605.1 954.5C1605.9 947.9 1606.6 945.6 1607.7 944.7C1608.7 943.7 1610.1 948.3 1611.2 948.8C1612.4 949.2 1613.4 949.4 1614.5 947.1C1615.6 944.8 1616.6 937.8 1617.8 934.9C1618.9 932.1 1620.1 930.7 1621.3 930.0C1622.6 929.3 1623.9 930.8 1625.1 930.8C1626.3 930.9 1627.8 930.4 1628.3 930.3"/>
<path class="cv" stroke="#00ac64" stroke-width="6.6" d="M25.6 716.4L27.6 716.7L30.2 717.0L33.2 716.7L36.7 716.5L40.4 715.8L44.2 716.1L48.0 715.5L51.7 714.6L55.0 715.0L57.9 714.2L60.3 715.4L65.6 715.3L68.3 714.7L70.9 715.1L74.2 716.6L77.5 717.0L80.8 717.3L84.2 716.4L87.5 715.0L90.5 714.4L93.4 714.7L96.5 715.6L98.4 718.8L100.5 721.3L102.8 725.0L105.1 727.7L107.1 728.5L110.9 727.8L114.6 724.5L117.5 725.3L120.6 727.6L123.6 729.3L126.8 728.8L129.9 727.4L132.7 727.9L135.7 728.7L138.7 730.1L140.7 733.0L142.9 736.8L145.2 740.4L147.8 741.4L150.6 742.4L153.6 742.4L156.7 740.6L159.8 739.2L162.2 737.7L164.5 735.2L166.9 732.7L169.3 730.9L171.9 729.0L174.8 727.2L177.9 726.5L181.0 724.5L184.1 723.7L187.0 723.3L190.2 722.8L193.3 722.8L196.2 722.7L199.0 722.6L202.7 725.0L206.1 727.2L209.6 727.1L211.6 725.6L213.6 722.6L215.6 719.4L217.7 716.4L220.1 713.4L222.5 712.4L224.8 711.4L227.5 709.3L230.8 709.2L235.2 708.1L237.5 706.9L240.1 706.3L242.9 706.7L245.9 705.7L249.1 705.5L252.4 705.5L255.7 705.2L259.0 705.0L262.3 704.4L265.5 703.7L268.5 702.9L271.4 702.8L274.5 702.6L277.3 702.7L280.0 702.7L282.5 701.7L285.0 701.7L287.6 702.3L290.5 701.3L293.7 701.6L297.4 701.3L301.6 701.1L304.0 700.8L306.6 700.8L309.4 700.9L312.5 700.1L315.7 700.9L319.0 700.9L322.4 699.7L325.8 699.8L329.3 699.8L332.9 699.5L336.3 699.5L339.8 700.1L343.1 699.4L346.4 699.2L349.5 700.4L352.4 699.6L355.2 699.8L357.7 699.7L359.9 699.5L361.9 699.6L367.9 699.5L370.0 700.5L371.0 700.5L373.9 700.4L376.2 700.3L378.7 700.4L381.3 700.8L384.1 699.9L387.2 700.1L390.4 698.8L393.8 698.2L397.3 698.5L401.1 697.5L403.7 698.4L406.6 697.4L409.7 697.0L412.9 696.8L416.3 696.6L419.7 697.3L423.1 697.2L426.5 696.5L429.8 695.9L433.0 695.4L436.0 695.4L438.7 695.6L441.2 696.0L443.3 696.0L447.3 696.5L448.2 696.9L449.7 696.8L455.4 697.5L457.3 697.2L459.6 697.6L462.0 696.8L464.7 697.9L467.6 696.5L470.6 697.3L473.8 696.9L477.1 697.5L480.5 696.5L483.9 697.5L487.4 696.1L491.0 697.1L494.6 696.9L498.1 696.6L501.6 696.0L505.1 696.2L508.5 696.2L511.7 695.7L514.9 695.6L517.9 696.4L520.7 695.8L524.3 695.3L527.7 695.6L531.2 695.3L534.5 694.4L537.8 694.8L541.0 694.5L544.1 693.5L547.2 693.5L550.3 694.0L553.3 693.3L556.2 692.6L559.1 692.6L562.0 692.4L564.9 692.5L567.7 692.5L570.5 691.3L573.9 691.0L577.2 691.4L580.4 690.7L583.6 690.8L586.7 690.6L589.8 690.5L592.8 691.2L595.7 690.4L598.6 691.0L601.5 691.5L604.2 690.3L607.0 691.1L609.7 690.8L613.1 690.1L616.4 691.0L619.7 690.5L622.8 689.9L625.9 690.4L628.9 689.2L631.7 690.1L634.5 690.1L637.2 689.1L639.8 690.3L643.1 690.5L645.9 691.3L648.4 691.1L650.9 692.6L653.6 693.3L656.9 693.2L660.9 693.0L663.4 693.0L666.0 693.6L668.9 693.5L672.0 692.8L675.3 693.3L678.6 692.2L682.0 692.5L685.3 692.3L688.7 691.6L691.9 691.0L695.0 691.9L698.0 691.6L700.7 691.0L703.2 690.0L707.5 690.3L711.3 690.4L714.7 689.6L717.7 689.1L720.5 687.8L723.2 688.4L725.8 687.9L729.1 689.5L731.3 689.3L734.2 690.8L739.3 692.4L741.5 691.4L744.0 691.7L746.8 691.7L749.8 692.4L752.9 692.1L756.2 692.3L759.6 691.2L763.0 690.9L766.4 691.1L769.8 691.6L773.0 691.2L776.1 691.5L778.9 691.1L781.6 690.1L785.2 690.2L788.5 689.8L791.5 689.7L794.3 690.0L797.1 689.4L799.8 689.6L802.6 688.4L805.5 689.5L808.7 688.4L811.5 689.2L814.5 689.3L817.6 688.3L820.8 689.0L824.1 689.7L827.3 688.5L830.5 689.3L833.5 689.3L836.5 689.4L839.3 689.2L841.9 689.3L845.6 689.5L849.1 689.5L852.4 689.7L855.4 690.6L858.2 690.8L860.7 690.0L863.0 690.0L866.9 691.3L869.5 693.5L872.0 694.4L874.3 697.3L876.5 699.4L878.7 702.3L881.1 703.5L884.4 703.5L887.8 701.1L891.6 700.1L894.9 699.2L898.5 698.8L902.1 698.4L905.2 700.2L907.9 700.6L910.2 703.5L912.3 706.6L914.3 708.2L917.4 710.0L920.0 712.6L922.5 714.1L924.4 716.5"/>
<path class="cv" stroke="#00ac64" stroke-width="6.4" d="M920.0 712.0C920.7 712.7 922.9 714.4 924.4 716.4C925.8 718.3 927.5 720.0 928.7 723.6C929.9 727.3 930.8 731.9 931.6 738.2C932.5 744.5 933.1 752.7 933.8 761.5C934.5 770.2 935.3 780.8 936.0 790.5C936.7 800.2 937.5 811.4 938.2 819.6C938.9 827.9 939.6 835.2 940.4 840.0C941.1 844.8 941.8 848.7 942.5 848.7C943.3 848.7 944.0 844.4 944.7 840.0C945.5 835.6 946.1 829.8 946.9 822.5C947.8 815.3 948.7 803.6 949.8 796.4C950.9 789.1 952.2 782.8 953.5 778.9C954.7 775.0 956.3 772.1 957.5 773.1C958.7 774.1 959.8 779.6 960.7 784.7C961.6 789.8 962.2 798.7 962.9 803.6C963.6 808.6 964.4 813.3 965.1 814.5C965.8 815.8 966.5 814.4 967.3 810.9C968.0 807.4 968.6 798.1 969.5 793.5C970.3 788.8 971.4 783.5 972.4 783.3C973.3 783.0 974.4 788.8 975.3 792.0C976.1 795.2 976.7 800.5 977.5 802.2C978.2 803.9 979.1 804.1 979.9 802.2C980.8 800.2 981.6 793.9 982.5 790.5C983.5 787.2 984.2 783.0 985.5 781.8C986.7 780.6 988.4 783.3 989.8 783.3C991.3 783.3 993.1 784.5 994.2 781.8C995.3 779.2 995.5 772.6 996.4 767.3C997.2 761.9 998.1 754.7 999.3 749.8C1000.5 745.0 1002.1 741.1 1003.6 738.2C1005.2 735.3 1006.9 733.8 1008.7 732.4C1010.5 730.9 1013.1 729.7 1014.5 729.5C1016.0 729.2 1016.6 728.2 1017.5 730.9C1018.3 733.6 1019.0 737.0 1019.6 745.5C1020.2 753.9 1020.6 770.9 1021.1 781.8C1021.6 792.7 1022.1 804.0 1022.5 810.9C1023.0 817.8 1023.4 822.1 1024.0 823.3C1024.6 824.5 1025.5 823.9 1026.2 818.2C1026.9 812.5 1027.6 799.5 1028.4 789.1C1029.1 778.7 1029.7 763.6 1030.5 755.6C1031.4 747.6 1032.5 743.5 1033.5 741.1C1034.4 738.7 1035.5 739.2 1036.4 741.1C1037.2 743.0 1037.8 747.2 1038.5 752.7C1039.3 758.3 1040.0 769.5 1040.7 774.5C1041.5 779.6 1041.8 781.6 1042.9 783.3C1044.0 785.0 1046.1 782.1 1047.3 784.7C1048.5 787.4 1049.2 794.7 1050.2 799.3C1051.2 803.9 1052.1 809.2 1053.1 812.4C1054.1 815.5 1054.9 817.9 1056.0 818.2C1057.1 818.4 1058.3 817.5 1059.6 813.8C1061.0 810.2 1062.7 802.9 1064.0 796.4C1065.3 789.8 1066.4 779.6 1067.6 774.5C1068.8 769.5 1070.3 765.8 1071.3 765.8C1072.2 765.8 1072.8 769.5 1073.5 774.5C1074.1 779.6 1074.8 790.5 1075.3 796.4C1075.9 802.2 1076.2 809.0 1076.8 809.5C1077.4 809.9 1078.1 803.4 1078.8 799.3C1079.6 795.2 1080.4 787.6 1081.2 784.7C1082.0 781.8 1082.9 780.4 1083.6 781.8C1084.4 783.3 1085.2 787.6 1085.8 793.5C1086.5 799.3 1087.0 811.5 1087.6 816.7C1088.1 821.9 1088.5 824.5 1089.0 824.7C1089.6 825.0 1090.2 824.1 1090.9 818.2C1091.6 812.2 1092.2 799.0 1093.1 789.1C1093.9 779.2 1095.0 766.1 1096.0 758.5C1097.0 751.0 1098.1 746.8 1098.9 744.0C1099.8 741.2 1100.2 741.3 1101.1 741.8C1101.9 742.3 1103.0 743.2 1104.0 746.9C1105.0 750.7 1105.9 756.1 1106.9 764.4C1107.9 772.6 1108.8 783.8 1109.8 796.4C1110.8 809.0 1111.9 827.9 1112.7 840.0C1113.6 852.1 1114.2 863.0 1114.9 869.1C1115.6 875.2 1116.2 876.4 1117.1 876.4C1117.9 876.4 1119.0 873.9 1120.0 869.1C1121.0 864.2 1121.8 855.8 1122.9 847.3C1124.0 838.8 1125.2 828.6 1126.5 818.2C1127.9 807.8 1129.5 793.9 1130.9 784.7C1132.4 775.5 1134.1 767.3 1135.3 762.9C1136.5 758.5 1137.2 758.3 1138.2 758.5C1139.2 758.8 1140.1 760.5 1141.1 764.4C1142.1 768.2 1143.0 776.7 1144.0 781.8C1145.0 786.9 1146.1 792.6 1146.9 794.9C1147.8 797.2 1148.2 797.8 1149.1 795.6C1149.9 793.5 1150.9 787.8 1152.0 781.8C1153.1 775.9 1154.9 764.6 1155.6 760.0C1156.4 755.4 1155.8 757.6 1156.5 754.2C1157.3 750.8 1159.0 742.7 1160.2 739.6C1161.4 736.6 1162.7 736.0 1163.8 736.0C1164.9 736.0 1165.9 736.8 1166.7 739.6C1167.6 742.4 1168.3 745.7 1168.9 752.7C1169.6 759.8 1170.1 770.9 1170.7 781.8C1171.2 792.7 1171.6 807.3 1172.1 818.2C1172.6 829.1 1173.1 839.8 1173.6 847.3C1174.0 854.8 1174.5 860.4 1175.0 863.3C1175.6 866.2 1176.3 867.4 1176.9 864.7C1177.5 862.1 1178.1 856.2 1178.7 847.3C1179.2 838.3 1179.6 817.9 1180.1 810.9C1180.7 803.9 1181.1 805.9 1182.0 805.1C1182.9 804.2 1184.6 808.2 1185.6 805.8C1186.7 803.4 1187.3 797.0 1188.1 790.5C1189.0 784.1 1189.8 772.1 1190.7 767.3C1191.6 762.4 1192.7 762.1 1193.6 761.5C1194.6 760.8 1195.7 760.2 1196.5 763.6C1197.4 767.0 1198.0 774.7 1198.7 781.8C1199.5 789.0 1200.2 802.2 1200.9 806.5C1201.6 810.9 1202.4 810.9 1203.1 808.0C1203.8 805.1 1204.3 795.6 1205.0 789.1C1205.6 782.5 1206.2 772.5 1207.0 768.7C1207.8 765.0 1208.7 765.6 1209.6 766.5C1210.6 767.5 1211.6 771.5 1212.5 774.5C1213.5 777.6 1214.1 782.8 1215.5 784.7C1216.8 786.7 1219.3 783.0 1220.5 786.2C1221.8 789.3 1222.0 796.6 1222.7 803.6C1223.5 810.7 1224.2 821.8 1224.9 828.4C1225.6 834.9 1226.4 841.0 1227.1 842.9C1227.8 844.8 1228.5 844.1 1229.3 840.0C1230.0 835.9 1230.6 827.4 1231.5 818.2C1232.3 809.0 1233.3 793.5 1234.4 784.7C1235.5 776.0 1236.8 769.8 1238.0 765.8C1239.2 761.8 1240.4 761.6 1241.6 760.7C1242.8 759.9 1244.1 759.6 1245.3 760.7C1246.5 761.8 1247.9 764.2 1248.9 767.3C1249.9 770.3 1250.2 776.7 1251.1 778.9C1251.9 781.1 1253.2 781.8 1254.0 780.4C1254.8 778.9 1255.2 772.6 1255.9 770.2C1256.5 767.8 1257.2 765.8 1257.9 765.8C1258.7 765.8 1259.6 766.5 1260.3 770.2C1260.9 773.8 1261.2 783.0 1262.0 787.6C1262.8 792.2 1264.1 792.7 1264.9 797.8C1265.8 802.9 1266.4 810.7 1267.1 818.2C1267.8 825.7 1268.5 837.6 1269.3 842.9C1270.0 848.2 1270.6 850.7 1271.5 850.2C1272.3 849.7 1273.5 845.3 1274.4 840.0C1275.2 834.7 1275.7 826.4 1276.5 818.2C1277.4 809.9 1278.5 796.8 1279.5 790.5C1280.4 784.2 1281.4 781.1 1282.4 780.4C1283.3 779.6 1284.4 781.6 1285.3 786.2C1286.1 790.8 1286.7 799.0 1287.5 808.0C1288.2 817.0 1288.9 830.1 1289.6 840.0C1290.4 849.9 1291.1 861.8 1291.8 867.6C1292.5 873.5 1293.0 875.9 1293.7 874.9C1294.4 873.9 1295.3 870.1 1296.2 861.8C1297.1 853.6 1298.0 835.9 1299.1 825.5C1300.2 815.0 1301.4 805.8 1302.7 799.3C1304.1 792.7 1305.6 788.6 1307.1 786.2C1308.5 783.8 1310.2 783.5 1311.5 784.7C1312.7 785.9 1313.5 787.9 1314.4 793.5C1315.2 799.0 1315.8 810.4 1316.5 818.2C1317.3 825.9 1317.8 836.1 1318.7 840.0C1319.7 843.9 1321.4 837.8 1322.4 841.5C1323.3 845.1 1323.8 855.8 1324.5 861.8C1325.3 867.9 1326.0 876.1 1326.7 877.8C1327.5 879.5 1328.2 874.7 1328.9 872.0C1329.6 869.3 1330.1 864.0 1331.1 861.8C1332.1 859.6 1333.6 862.5 1334.7 858.9C1335.8 855.3 1336.7 847.5 1337.6 840.0C1338.6 832.5 1339.3 821.6 1340.5 813.8C1341.8 806.1 1343.4 798.1 1344.9 793.5C1346.4 788.8 1348.4 785.7 1349.6 786.2C1350.8 786.7 1351.4 790.3 1352.2 796.4C1353.0 802.4 1353.7 817.5 1354.4 822.5C1355.0 827.6 1355.6 830.1 1356.3 826.9C1356.9 823.8 1357.6 809.5 1358.3 803.6C1358.9 797.8 1359.6 793.5 1360.2 792.0C1360.8 790.5 1361.5 790.5 1362.1 794.9C1362.7 799.3 1363.2 810.4 1363.8 818.2C1364.5 825.9 1365.3 839.0 1366.0 841.5C1366.7 843.9 1367.5 837.3 1368.2 832.7C1368.9 828.1 1369.4 817.5 1370.4 813.8C1371.3 810.2 1373.0 814.8 1374.0 810.9C1375.0 807.0 1375.3 796.8 1376.2 790.5C1377.0 784.2 1377.8 778.2 1379.1 773.1C1380.4 768.0 1383.2 761.9 1384.2 760.0C1384.9 758.1 1384.2 762.5 1384.9 761.4C1385.8 760.3 1388.1 754.9 1389.8 753.3C1391.4 751.7 1393.4 749.8 1394.7 751.7C1395.9 753.6 1396.3 759.0 1397.1 764.7C1397.9 770.4 1398.8 781.5 1399.5 785.9C1400.3 790.2 1400.7 792.6 1401.5 790.7C1402.3 788.8 1403.2 781.0 1404.1 774.5C1405.0 767.9 1405.7 756.5 1406.9 751.7C1408.0 746.8 1409.4 746.6 1410.9 745.1C1412.4 743.6 1414.2 743.2 1415.8 742.7C1417.5 742.2 1419.1 741.6 1420.7 741.9C1422.3 742.2 1424.4 742.7 1425.6 744.3C1426.8 746.0 1427.2 749.1 1428.0 751.7C1428.9 754.2 1429.4 758.2 1430.5 759.8C1431.6 761.4 1433.5 758.4 1434.6 761.4C1435.6 764.4 1436.0 769.6 1436.7 777.7C1437.3 785.9 1437.8 799.4 1438.3 810.3C1438.8 821.1 1439.4 835.4 1439.9 842.8C1440.5 850.3 1441.0 856.4 1441.6 855.1C1442.2 853.7 1442.9 843.5 1443.5 834.7C1444.2 825.9 1444.8 812.2 1445.5 802.1C1446.1 792.1 1446.7 781.2 1447.6 774.5C1448.5 767.7 1449.8 763.7 1450.8 761.4C1451.9 759.1 1453.1 758.4 1454.1 760.6C1455.0 762.8 1455.8 768.3 1456.5 774.5C1457.3 780.6 1457.8 790.9 1458.5 797.2C1459.2 803.6 1459.9 811.6 1460.6 812.7C1461.3 813.8 1462.0 809.6 1462.7 803.8C1463.4 797.9 1463.9 784.2 1464.7 777.7C1465.4 771.2 1466.0 767.7 1467.1 764.7C1468.2 761.7 1469.7 760.5 1471.2 759.8C1472.7 759.1 1474.5 760.1 1476.1 760.6C1477.7 761.2 1479.3 762.4 1481.0 763.1C1482.6 763.7 1484.2 764.1 1485.9 764.7C1487.5 765.2 1489.1 766.9 1490.7 766.3C1492.4 765.8 1494.0 761.7 1495.6 761.4C1497.2 761.2 1498.6 764.1 1500.5 764.7C1502.4 765.2 1504.6 764.3 1507.0 764.7C1509.5 765.1 1512.4 766.7 1515.2 767.1C1517.9 767.5 1520.9 767.0 1523.3 767.1C1525.7 767.3 1527.6 767.3 1529.8 767.9C1532.0 768.6 1534.4 769.8 1536.3 771.2C1538.2 772.6 1539.9 775.0 1541.2 776.1C1542.6 777.2 1543.4 776.9 1544.5 777.7C1545.6 778.5 1546.8 778.5 1547.7 781.0C1548.7 783.4 1549.4 790.1 1550.2 792.4C1551.0 794.7 1551.4 794.8 1552.6 794.8C1553.8 794.8 1555.9 793.0 1557.5 792.4C1559.1 791.7 1561.0 791.8 1562.4 790.7C1563.7 789.7 1564.4 787.1 1565.6 785.9C1566.9 784.6 1568.5 783.1 1569.7 783.4C1570.9 783.7 1572.0 784.1 1573.0 787.5C1573.9 790.9 1574.6 800.0 1575.4 803.8C1576.2 807.6 1577.0 810.8 1577.9 810.3C1578.7 809.7 1579.7 804.0 1580.6 800.5C1581.6 797.0 1582.4 791.8 1583.6 789.1C1584.7 786.4 1586.3 785.0 1587.6 784.2C1589.0 783.4 1590.5 783.1 1591.7 784.2C1592.9 785.3 1593.9 786.4 1595.0 790.7C1596.0 795.1 1596.9 804.8 1597.9 810.3C1598.8 815.7 1599.8 822.8 1600.7 823.3C1601.5 823.8 1602.3 817.1 1603.1 813.5C1603.9 810.0 1604.5 804.6 1605.5 802.1C1606.6 799.7 1608.1 799.7 1609.6 798.9C1611.1 798.1 1613.1 798.1 1614.5 797.2C1615.9 796.4 1616.4 794.7 1617.8 794.0C1619.1 793.3 1620.9 793.3 1622.6 793.2C1624.4 793.0 1627.4 793.2 1628.3 793.2"/>
<path class="cv" stroke="#0070e1" stroke-width="6.6" d="M25.6 528.9L27.5 528.6L30.0 528.7L33.0 528.8L36.3 529.6L39.8 529.0L43.5 529.3L47.2 529.8L50.9 529.8L54.4 530.5L57.5 530.0L60.3 530.1L64.1 530.8L67.7 530.8L70.9 532.4L73.9 532.2L76.7 532.8L79.2 533.6L81.4 533.0L85.4 533.1L88.1 532.1L90.5 530.6L93.4 531.3L96.5 533.0L98.0 535.4L99.8 538.0L101.7 541.3L103.6 544.4L105.4 546.9L107.1 549.1L110.9 550.5L114.6 549.0L117.5 551.1L120.6 554.8L123.6 556.3L126.8 556.4L129.9 553.9L132.7 552.7L138.1 556.1L139.5 557.3L141.1 561.4L142.8 564.7L144.6 568.7L146.2 571.3L147.8 572.4L150.3 570.2L152.6 566.0L155.3 563.1L158.6 562.0L162.2 560.0L165.9 559.1L168.5 556.8L171.1 554.9L173.8 552.3L176.4 550.8L179.8 549.0L183.2 546.8L187.0 546.3L190.2 544.5L193.8 544.1L197.3 544.0L200.5 544.9L203.3 547.7L205.8 550.7L208.1 554.3L210.5 555.5L212.1 553.2L213.5 551.8L215.0 548.3L216.5 545.1L218.2 541.7L220.1 538.8L222.5 536.1L224.8 534.2L227.4 532.5L230.8 530.9L235.2 529.4L237.5 528.9L240.1 528.9L242.9 528.7L245.9 528.2L249.1 527.8L252.4 526.4L255.7 526.9L259.0 525.7L262.3 525.1L265.5 525.1L268.5 525.2L271.4 524.2L274.6 524.1L277.6 524.0L280.5 524.4L283.3 523.6L286.1 523.4L288.9 523.2L291.8 522.7L294.9 523.7L298.1 523.7L301.6 523.3L304.2 522.8L307.1 522.8L310.0 522.6L313.1 523.0L316.3 523.0L319.5 522.5L322.7 523.3L325.9 523.1L329.1 522.4L332.3 523.2L335.3 523.1L338.3 522.5L341.1 522.6L343.8 523.3L347.3 522.5L350.6 523.2L353.8 524.1L356.9 523.4L359.8 524.0L362.7 524.8L365.5 524.9L368.3 524.9L371.1 524.6L373.9 525.1L377.0 524.0L379.9 524.6L382.7 523.5L385.4 523.4L388.2 522.9L391.0 521.9L394.1 522.0L397.4 521.4L401.1 521.6L403.7 520.9L406.6 520.3L409.7 519.9L412.9 520.4L416.3 519.3L419.7 519.5L423.1 519.3L426.5 519.4L429.8 518.1L433.0 518.6L436.0 517.7L438.7 518.2L441.2 518.1L443.3 518.2L447.3 518.7L448.2 518.5L449.7 520.2L455.4 519.7L457.3 519.8L459.5 519.3L462.0 519.9L464.7 519.1L467.5 519.4L470.5 519.8L473.7 519.8L477.0 518.9L480.4 519.6L483.9 519.0L487.4 518.5L490.9 519.1L494.5 518.9L498.1 518.4L501.6 518.3L505.1 518.2L508.5 518.1L511.9 518.1L515.1 517.9L518.1 516.9L521.0 516.5L523.7 516.4L527.5 516.4L531.1 516.5L534.6 516.7L537.9 515.6L541.2 515.2L544.3 515.1L547.4 515.3L550.4 514.4L553.4 513.6L556.2 513.9L559.1 513.8L562.0 513.2L564.8 512.3L567.6 511.7L570.5 511.8L573.8 511.0L577.0 510.6L580.3 510.7L583.5 510.9L586.6 510.4L589.8 509.7L592.8 510.1L595.8 508.7L598.7 508.5L601.6 508.3L604.4 508.4L607.1 508.7L609.7 507.7L613.2 508.1L616.6 507.9L619.7 507.0L622.7 507.3L625.6 507.1L628.4 506.4L631.2 506.0L634.0 505.9L636.8 506.3L639.9 507.1L642.6 507.2L645.3 508.6L647.9 509.9L650.7 510.6L653.7 512.1L657.1 512.5L660.9 512.8L663.5 512.9L666.3 512.7L669.4 512.3L672.7 511.7L676.1 511.9L679.6 510.7L683.1 510.3L686.5 510.3L689.9 509.7L693.1 510.1L696.1 508.9L698.8 509.0L701.2 509.2L703.2 508.7L708.2 510.8L710.7 511.3L713.6 510.8L717.0 509.8L720.8 508.6L724.3 507.8L727.3 506.9L729.5 508.6L730.9 510.9L736.3 512.0L738.3 512.2L740.6 511.1L743.1 511.7L745.8 511.5L748.7 511.4L751.8 510.1L755.0 509.6L758.4 510.2L761.7 509.6L765.1 508.5L768.6 509.1L771.9 508.5L775.3 508.0L778.5 507.9L781.6 507.5L784.6 506.8L787.6 506.2L790.7 506.4L793.8 506.6L796.9 505.8L800.0 505.6L803.0 505.3L806.1 505.7L809.1 506.2L812.2 505.8L815.2 504.6L818.1 505.0L821.1 505.3L824.0 504.4L826.8 505.3L830.1 504.4L833.4 504.6L836.7 505.0L840.0 505.0L843.3 503.8L846.5 504.8L849.7 504.8L852.7 504.7L855.7 504.7L858.5 504.2L861.2 504.2L863.7 504.0L866.0 504.7L870.2 505.4L873.5 506.4L876.2 508.9L878.6 510.3L881.1 511.4L884.1 511.5L887.0 511.7L890.2 512.2L893.4 511.7L896.6 511.9L899.8 512.2L902.7 511.8L905.5 512.1L908.9 512.8L912.2 514.5L915.1 514.4L917.8 516.7L920.0 517.6L923.8 521.1L925.8 524.3"/>
<path class="cv" stroke="#0070e1" stroke-width="6.4" d="M920.0 517.5C921.0 518.5 924.1 521.1 925.8 524.0C927.5 526.9 929.0 529.2 930.2 534.9C931.4 540.6 932.1 548.2 933.1 558.2C934.1 568.1 935.0 581.2 936.0 594.5C937.0 607.9 938.1 625.3 938.9 638.2C939.8 651.0 940.4 664.6 941.1 671.6C941.8 678.7 942.5 680.4 943.3 680.4C944.0 680.4 944.7 677.5 945.5 671.6C946.2 665.8 946.8 654.7 947.6 645.5C948.5 636.2 949.5 624.4 950.5 616.4C951.6 608.4 952.9 601.3 954.2 597.5C955.4 593.6 956.9 591.9 958.1 593.1C959.3 594.3 960.5 598.4 961.5 604.7C962.4 611.0 962.9 623.2 963.6 630.9C964.4 638.7 965.1 647.6 965.8 651.3C966.5 654.9 967.3 655.2 968.0 652.7C968.7 650.3 969.5 642.1 970.2 636.7C970.9 631.4 971.6 622.9 972.4 620.7C973.1 618.5 973.8 621.5 974.5 623.6C975.3 625.8 975.9 631.6 976.7 633.8C977.6 636.0 978.7 638.4 979.6 636.7C980.6 635.0 981.6 627.3 982.5 623.6C983.5 620.0 984.2 616.6 985.5 614.9C986.7 613.2 988.5 614.2 989.8 613.5C991.2 612.7 992.5 613.7 993.5 610.5C994.4 607.4 994.8 602.1 995.6 594.5C996.5 587.0 997.5 573.7 998.5 565.5C999.6 557.2 1000.8 550.4 1002.2 545.1C1003.5 539.8 1005.0 536.1 1006.5 533.5C1008.1 530.8 1010.1 529.6 1011.6 529.1C1013.2 528.6 1014.9 528.6 1016.0 530.5C1017.1 532.5 1017.5 532.5 1018.2 540.7C1018.9 549.0 1019.8 566.2 1020.4 580.0C1021.0 593.8 1021.3 611.5 1021.8 623.6C1022.3 635.8 1022.8 646.7 1023.3 652.7C1023.8 658.8 1024.1 662.4 1024.7 660.0C1025.3 657.6 1026.2 649.1 1026.9 638.2C1027.6 627.3 1028.4 606.7 1029.1 594.5C1029.8 582.4 1030.4 571.9 1031.3 565.5C1032.1 559.0 1033.2 557.2 1034.2 556.0C1035.2 554.8 1036.2 554.9 1037.1 558.2C1037.9 561.5 1038.5 567.9 1039.3 575.6C1040.0 583.4 1040.7 597.0 1041.5 604.7C1042.2 612.5 1042.5 618.8 1043.6 622.2C1044.7 625.6 1046.8 622.2 1048.0 625.1C1049.2 628.0 1049.9 635.3 1050.9 639.6C1051.9 644.0 1052.8 648.8 1053.8 651.3C1054.8 653.7 1055.8 655.2 1056.7 654.2C1057.7 653.2 1058.5 650.3 1059.6 645.5C1060.7 640.6 1062.1 632.4 1063.3 625.1C1064.5 617.8 1065.7 607.6 1066.9 601.8C1068.1 596.0 1069.5 590.7 1070.5 590.2C1071.6 589.7 1072.6 593.3 1073.5 598.9C1074.3 604.5 1075.0 616.1 1075.6 623.6C1076.2 631.2 1076.5 642.8 1077.1 644.0C1077.7 645.2 1078.5 635.0 1079.3 630.9C1080.0 626.8 1080.6 621.0 1081.5 619.3C1082.3 617.6 1083.5 616.8 1084.4 620.7C1085.2 624.6 1085.8 635.5 1086.5 642.5C1087.3 649.6 1088.0 661.2 1088.7 662.9C1089.5 664.6 1090.2 660.5 1090.9 652.7C1091.6 645.0 1092.4 627.8 1093.1 616.4C1093.8 605.0 1094.4 593.3 1095.3 584.4C1096.1 575.4 1097.2 567.2 1098.2 562.5C1099.2 557.9 1100.1 556.7 1101.1 556.7C1102.1 556.7 1103.0 557.9 1104.0 562.5C1105.0 567.2 1105.9 575.4 1106.9 584.4C1107.9 593.3 1108.8 603.8 1109.8 616.4C1110.8 629.0 1111.8 645.9 1112.7 660.0C1113.7 674.1 1114.7 692.0 1115.6 700.7C1116.6 709.5 1117.6 711.9 1118.5 712.4C1119.5 712.8 1120.5 708.7 1121.5 703.6C1122.4 698.5 1123.3 691.5 1124.4 681.8C1125.5 672.1 1126.8 656.8 1128.0 645.5C1129.2 634.1 1130.4 622.4 1131.6 613.5C1132.8 604.5 1134.1 596.2 1135.3 591.6C1136.5 587.0 1137.8 585.3 1138.9 585.8C1140.0 586.3 1140.8 589.5 1141.8 594.5C1142.8 599.6 1143.8 609.6 1144.7 616.4C1145.7 623.2 1146.8 631.9 1147.6 635.3C1148.5 638.7 1149.0 639.9 1149.8 636.7C1150.7 633.6 1151.6 624.6 1152.7 616.4C1153.8 608.1 1155.1 596.2 1156.4 587.3C1157.6 578.3 1158.9 568.1 1160.2 562.5C1161.4 557.0 1162.7 554.8 1163.8 553.8C1164.9 552.8 1165.9 553.6 1166.7 556.7C1167.6 559.9 1168.2 564.0 1168.9 572.7C1169.6 581.5 1170.5 595.8 1171.1 609.1C1171.7 622.4 1172.1 639.4 1172.5 652.7C1173.0 666.1 1173.5 680.4 1174.0 689.1C1174.5 697.8 1174.8 702.7 1175.5 705.1C1176.1 707.5 1177.0 707.5 1177.6 703.6C1178.2 699.8 1178.6 690.1 1179.1 681.8C1179.6 673.6 1179.5 659.0 1180.5 654.2C1181.6 649.3 1184.4 656.6 1185.6 652.7C1186.8 648.8 1187.0 639.9 1187.8 630.9C1188.7 621.9 1189.8 605.9 1190.7 598.9C1191.7 591.9 1192.7 590.2 1193.6 588.7C1194.6 587.3 1195.7 586.8 1196.5 590.2C1197.4 593.6 1198.0 602.3 1198.7 609.1C1199.5 615.9 1200.3 626.8 1200.9 630.9C1201.6 635.0 1202.0 636.2 1202.7 633.8C1203.3 631.4 1203.9 622.7 1204.5 616.4C1205.2 610.1 1205.8 599.9 1206.7 596.0C1207.6 592.1 1208.8 591.6 1209.9 593.1C1211.0 594.5 1212.2 600.4 1213.3 604.7C1214.3 609.1 1214.8 616.1 1216.2 619.3C1217.5 622.4 1220.1 620.5 1221.3 623.6C1222.5 626.8 1222.7 630.9 1223.5 638.2C1224.2 645.5 1224.9 659.0 1225.6 667.3C1226.4 675.5 1227.1 684.5 1227.8 687.6C1228.5 690.8 1229.3 690.8 1230.0 686.2C1230.7 681.6 1231.5 670.4 1232.2 660.0C1232.9 649.6 1233.5 635.3 1234.4 623.6C1235.2 612.0 1236.2 597.6 1237.3 590.2C1238.4 582.8 1239.7 581.5 1240.9 579.3C1242.1 577.1 1243.3 576.7 1244.5 577.1C1245.8 577.5 1247.1 578.3 1248.2 581.5C1249.3 584.6 1250.2 592.1 1251.1 596.0C1252.0 599.9 1252.8 605.2 1253.6 604.7C1254.3 604.2 1254.8 596.5 1255.5 593.1C1256.1 589.7 1256.6 585.6 1257.3 584.4C1258.1 583.2 1259.1 582.9 1259.8 585.8C1260.5 588.7 1261.1 596.5 1261.7 601.8C1262.3 607.2 1262.7 613.9 1263.5 617.8C1264.2 621.7 1265.5 620.5 1266.4 625.1C1267.2 629.7 1267.8 637.7 1268.5 645.5C1269.3 653.2 1270.0 665.1 1270.7 671.6C1271.5 678.2 1272.2 683.0 1272.9 684.7C1273.6 686.4 1274.4 687.2 1275.1 681.8C1275.8 676.5 1276.5 663.2 1277.3 652.7C1278.0 642.3 1278.6 627.8 1279.5 619.3C1280.3 610.8 1281.4 603.8 1282.4 601.8C1283.3 599.9 1284.4 602.8 1285.3 607.6C1286.1 612.5 1286.7 621.0 1287.5 630.9C1288.2 640.8 1288.9 655.6 1289.6 667.3C1290.4 678.9 1291.1 693.5 1291.8 700.7C1292.5 708.0 1293.0 710.4 1293.7 710.9C1294.4 711.4 1295.4 709.7 1296.2 703.6C1297.0 697.6 1297.4 686.7 1298.4 674.5C1299.3 662.4 1300.8 642.5 1302.0 630.9C1303.2 619.3 1304.4 610.8 1305.6 604.7C1306.8 598.7 1308.2 595.5 1309.3 594.5C1310.4 593.6 1311.3 595.3 1312.2 598.9C1313.0 602.5 1313.6 607.4 1314.4 616.4C1315.1 625.3 1315.8 643.5 1316.5 652.7C1317.3 661.9 1317.8 668.2 1318.7 671.6C1319.7 675.0 1321.4 670.2 1322.4 673.1C1323.3 676.0 1323.8 683.3 1324.5 689.1C1325.3 694.9 1326.0 704.6 1326.7 708.0C1327.5 711.4 1328.2 710.9 1328.9 709.5C1329.6 708.0 1330.2 701.0 1331.1 699.3C1331.9 697.6 1333.2 701.0 1334.0 699.3C1334.8 697.6 1335.5 695.6 1336.2 689.1C1336.9 682.5 1337.5 669.2 1338.4 660.0C1339.2 650.8 1340.2 641.1 1341.3 633.8C1342.4 626.5 1343.6 620.0 1344.9 616.4C1346.2 612.7 1348.1 611.3 1349.3 612.0C1350.5 612.7 1351.3 615.6 1352.2 620.7C1353.0 625.8 1353.7 637.7 1354.4 642.5C1355.0 647.4 1355.6 651.8 1356.3 649.8C1356.9 647.9 1357.4 636.2 1358.0 630.9C1358.6 625.6 1359.1 619.5 1359.7 617.8C1360.4 616.1 1361.0 616.1 1361.6 620.7C1362.3 625.3 1362.9 636.5 1363.5 645.5C1364.1 654.4 1364.7 668.0 1365.3 674.5C1365.9 681.1 1366.4 684.7 1367.0 684.7C1367.6 684.7 1368.4 678.2 1368.9 674.5C1369.5 670.9 1369.6 664.6 1370.4 662.9C1371.1 661.2 1372.4 667.3 1373.3 664.4C1374.1 661.5 1374.6 652.7 1375.5 645.5C1376.3 638.2 1377.2 628.2 1378.4 620.7C1379.6 613.2 1381.3 605.5 1382.7 600.4C1384.2 595.3 1385.9 592.8 1387.1 590.2C1388.3 587.6 1388.5 585.9 1389.8 584.7C1391.0 583.5 1393.4 581.4 1394.7 583.1C1395.9 584.7 1396.3 588.8 1397.1 594.5C1397.9 600.2 1398.7 611.3 1399.5 617.2C1400.4 623.2 1401.2 630.8 1402.0 630.3C1402.8 629.7 1403.5 621.6 1404.4 614.0C1405.4 606.4 1406.5 591.5 1407.7 584.7C1408.9 577.9 1410.3 576.3 1411.8 573.3C1413.2 570.3 1415.0 568.0 1416.6 566.8C1418.3 565.5 1420.0 565.4 1421.5 566.0C1423.0 566.5 1424.4 567.4 1425.6 570.0C1426.8 572.6 1427.8 578.2 1428.9 581.4C1429.9 584.7 1431.0 587.7 1432.1 589.6C1433.2 591.5 1434.4 588.8 1435.4 592.8C1436.3 596.9 1437.1 603.7 1437.8 614.0C1438.5 624.3 1438.9 641.1 1439.4 654.7C1440.0 668.3 1440.5 687.3 1441.1 695.4C1441.6 703.6 1442.2 706.3 1442.7 703.6C1443.2 700.8 1443.6 691.3 1444.3 679.1C1445.0 666.9 1446.0 642.5 1446.8 630.3C1447.6 618.1 1448.3 611.6 1449.2 605.9C1450.2 600.2 1451.5 597.2 1452.5 596.1C1453.4 595.0 1454.1 594.2 1454.9 599.3C1455.7 604.5 1456.5 618.3 1457.4 627.0C1458.2 635.7 1459.0 648.2 1459.8 651.4C1460.6 654.7 1461.4 652.8 1462.2 646.6C1463.1 640.3 1463.7 623.8 1464.7 614.0C1465.6 604.2 1466.9 593.6 1467.9 587.9C1469.0 582.2 1469.8 581.7 1471.2 579.8C1472.6 577.9 1474.2 577.1 1476.1 576.5C1478.0 575.9 1480.2 575.9 1482.6 576.2C1485.0 576.5 1488.7 579.5 1490.7 578.2C1492.8 576.9 1493.6 569.9 1494.8 568.4C1496.0 566.9 1496.8 568.3 1498.1 569.2C1499.3 570.2 1500.6 574.5 1502.1 574.1C1503.6 573.7 1505.4 569.1 1507.0 566.8C1508.6 564.5 1509.7 561.9 1511.9 560.3C1514.1 558.6 1517.3 557.9 1520.0 557.0C1522.8 556.0 1525.7 554.9 1528.2 554.6C1530.6 554.2 1532.7 554.4 1534.7 555.0C1536.7 555.7 1538.8 556.9 1540.4 558.6C1542.0 560.3 1543.3 563.5 1544.5 565.1C1545.7 566.8 1546.8 565.1 1547.7 568.4C1548.7 571.7 1549.4 579.5 1550.2 584.7C1551.0 589.8 1551.7 595.8 1552.6 599.3C1553.6 602.9 1554.8 606.1 1555.9 605.9C1557.0 605.6 1557.9 599.3 1559.1 597.7C1560.4 596.1 1562.1 599.3 1563.2 596.1C1564.3 592.8 1564.8 582.5 1565.6 578.2C1566.5 573.8 1567.1 570.3 1568.1 570.0C1569.0 569.8 1570.4 571.9 1571.3 576.5C1572.3 581.2 1573.0 591.5 1573.8 597.7C1574.6 604.0 1575.4 611.6 1576.2 614.0C1577.0 616.4 1577.9 616.2 1578.7 612.4C1579.5 608.6 1580.2 598.0 1581.1 591.2C1582.1 584.4 1583.0 576.1 1584.4 571.7C1585.7 567.2 1587.9 565.5 1589.3 564.3C1590.6 563.1 1591.6 562.6 1592.5 564.3C1593.5 566.1 1594.1 568.0 1595.0 574.9C1595.8 581.8 1596.6 596.6 1597.4 605.9C1598.2 615.1 1599.0 627.3 1599.8 630.3C1600.7 633.3 1601.5 629.7 1602.3 623.8C1603.1 617.8 1603.9 600.8 1604.7 594.5C1605.5 588.1 1606.1 585.8 1607.2 585.5C1608.3 585.2 1610.0 591.9 1611.2 592.8C1612.5 593.8 1613.4 593.9 1614.5 591.2C1615.6 588.5 1616.7 579.9 1617.8 576.5C1618.8 573.1 1619.8 571.7 1621.0 570.8C1622.2 570.0 1623.9 571.5 1625.1 571.7C1626.3 571.8 1627.8 571.7 1628.3 571.7"/>
<path class="cv" stroke="#ff3c3c" stroke-width="6.6" d="M25.6 371.1L27.4 371.8L29.5 371.2L32.0 370.9L34.8 371.5L37.9 372.0L41.1 372.0L44.6 371.3L48.2 372.0L52.0 371.7L55.8 371.6L59.6 373.1L63.4 372.8L67.2 372.5L70.8 373.2L74.3 373.3L77.7 372.4L80.8 373.0L83.7 373.0L86.3 372.8L88.6 373.9L90.5 374.2L94.8 374.2L96.5 376.2L98.5 378.1L100.7 380.9L103.1 384.1L105.5 386.8L109.0 387.4L112.5 388.2L116.1 388.8L118.8 391.2L121.5 393.7L124.1 395.7L126.7 397.2L129.7 399.9L132.5 401.0L135.7 403.4L137.6 404.7L139.7 408.9L141.8 411.5L144.0 414.1L146.0 416.6L147.8 417.4L149.9 417.3L151.7 414.2L153.4 410.2L155.3 407.1L158.2 405.6L161.2 405.0L164.4 404.1L166.4 401.3L168.5 399.0L170.6 397.0L172.8 394.2L174.9 393.1L177.5 390.6L180.0 388.0L182.6 387.5L185.5 385.7L188.8 386.3L192.3 385.5L195.9 385.7L199.0 385.5L202.4 387.2L205.3 391.0L208.1 392.0L210.0 390.1L211.9 387.3L213.7 385.1L215.6 381.6L217.7 379.6L219.8 377.5L222.1 374.9L224.7 372.2L227.3 371.9L229.9 371.1L233.4 370.1L238.2 369.1L240.4 368.0L242.7 367.6L245.1 368.3L247.7 367.1L250.5 367.8L253.4 366.6L256.5 366.7L259.9 366.1L263.5 366.5L267.3 366.3L271.4 365.5L273.8 365.7L276.4 365.6L279.2 365.7L282.0 366.0L285.0 365.3L288.1 364.6L291.2 365.8L294.5 365.4L297.7 364.6L301.0 365.2L304.3 364.3L307.6 365.6L310.9 364.5L314.1 365.1L317.3 364.6L320.4 364.9L323.4 364.8L326.3 365.3L329.1 364.6L331.7 365.1L335.3 364.6L338.8 364.4L342.2 365.1L345.5 364.2L348.8 364.4L351.9 364.7L354.9 365.1L357.9 365.2L360.7 364.8L363.5 364.6L366.2 365.3L368.9 364.7L371.4 365.3L373.9 365.9L377.5 365.5L380.5 364.2L383.2 364.5L385.7 363.7L388.2 364.0L390.8 363.3L393.7 362.6L397.1 362.1L401.1 361.7L403.5 362.3L406.0 361.7L408.6 362.3L411.4 362.6L414.2 361.7L417.2 362.2L420.2 362.3L423.3 362.0L426.5 362.7L429.7 361.4L432.9 362.0L436.1 361.6L439.4 362.6L442.7 362.4L445.9 362.5L449.2 362.2L452.4 361.5L455.4 361.6L458.6 362.1L461.8 362.9L465.1 361.8L468.5 361.9L471.9 363.0L475.3 362.3L478.7 362.6L482.1 362.7L485.4 363.0L488.7 362.9L492.0 363.0L495.1 362.3L498.2 363.2L501.1 363.1L503.9 362.4L506.5 362.1L509.0 362.0L513.4 361.9L517.3 362.1L520.7 361.8L523.7 362.0L526.6 361.8L529.3 362.1L532.0 361.9L534.8 360.9L537.9 360.7L541.1 361.3L544.3 361.2L547.6 361.3L550.8 360.9L554.0 361.0L557.2 359.8L560.5 360.7L563.7 360.7L566.9 359.2L570.2 359.4L573.6 360.2L577.1 359.0L580.5 359.4L583.9 358.5L587.2 358.5L590.3 358.5L593.2 359.2L595.8 358.1L600.4 358.2L603.9 358.6L606.9 357.6L610.3 356.9L613.4 357.6L616.7 356.4L620.0 355.2L623.2 354.7L626.2 354.5L629.6 355.5L632.8 355.4L635.9 356.6L639.2 357.5L642.8 358.3L646.6 359.4L650.3 359.2L653.7 360.2L657.1 360.8L659.9 361.1L663.8 361.7L666.5 361.5L669.6 362.0L673.0 361.3L676.4 360.6L679.7 361.3L682.7 361.0L686.7 360.5L690.4 360.9L693.8 360.6L697.1 359.7L701.2 359.7L705.0 357.6L708.7 357.0L712.5 357.4L716.3 357.6L720.0 357.8L722.0 358.7L723.9 359.3L730.3 359.7L732.3 360.5L734.5 360.3L737.0 360.3L739.7 360.0L742.6 359.8L745.6 360.7L748.8 360.4L752.1 360.6L755.4 359.7L758.8 360.5L762.3 360.7L765.7 360.3L769.1 360.6L772.4 361.1L775.6 360.8L778.6 361.1L781.6 360.3L784.8 361.2L788.0 360.1L791.2 361.3L794.4 360.4L797.5 360.6L800.7 360.4L803.8 361.3L806.8 361.5L809.9 361.3L812.8 360.5L815.8 360.9L818.6 360.8L821.4 361.4L824.1 361.1L826.8 361.8L830.4 361.5L833.9 362.7L837.4 362.9L840.9 363.7L844.2 363.8L847.3 363.7L850.3 364.6L853.1 365.2L855.7 366.4L858.0 366.6L860.0 366.7L865.7 368.5L867.3 369.7"/>
<path class="cv" stroke="#ff3c3c" stroke-width="6.4" d="M860.0 366.9C861.2 367.4 865.1 368.5 867.3 369.8C869.5 371.2 871.5 372.6 873.1 374.9C874.7 377.2 875.5 379.3 876.7 383.6C877.9 388.0 879.2 394.8 880.4 401.1C881.6 407.4 882.7 413.7 884.0 421.5C885.3 429.2 886.8 440.1 888.4 447.6C889.9 455.2 891.9 460.5 893.5 466.5C895.0 472.6 896.5 479.4 897.8 484.0C899.2 488.6 900.5 493.5 901.5 494.2C902.4 494.9 902.8 493.5 903.6 488.4C904.5 483.3 905.6 471.9 906.5 463.6C907.5 455.4 908.5 446.4 909.5 438.9C910.4 431.4 911.3 423.4 912.4 418.5C913.5 413.7 914.8 412.0 916.0 409.8C917.2 407.6 918.4 407.9 919.6 405.5C920.8 403.0 922.1 397.5 923.3 395.3C924.5 393.1 925.7 391.9 926.9 392.4C928.1 392.8 929.6 394.8 930.5 398.2C931.5 401.6 931.9 405.5 932.7 412.7C933.6 420.0 934.7 432.1 935.6 441.8C936.6 451.5 937.6 463.4 938.5 470.9C939.5 478.4 940.6 484.5 941.5 486.9C942.3 489.3 942.8 488.8 943.6 485.5C944.5 482.1 945.6 474.3 946.5 466.5C947.5 458.8 948.5 446.7 949.5 438.9C950.4 431.2 951.3 424.1 952.4 420.0C953.5 415.9 954.8 413.9 956.0 414.2C957.2 414.4 958.5 416.8 959.6 421.5C960.7 426.1 961.7 436.7 962.5 441.8C963.4 446.9 963.9 452.0 964.7 452.0C965.6 452.0 966.7 445.9 967.6 441.8C968.6 437.7 969.5 429.7 970.5 427.3C971.6 424.8 972.8 426.2 974.2 427.3C975.5 428.4 977.2 433.8 978.5 433.8C979.9 433.8 981.1 429.3 982.2 427.3C983.3 425.2 983.6 422.9 985.1 421.5C986.5 420.0 989.3 420.0 990.9 418.5C992.5 417.1 993.5 416.6 994.5 412.7C995.6 408.8 996.4 400.1 997.5 395.3C998.5 390.4 999.5 386.3 1001.1 383.6C1002.7 381.0 1005.1 380.1 1006.9 379.3C1008.7 378.4 1010.5 378.1 1012.0 378.5C1013.5 379.0 1014.7 378.9 1015.6 382.2C1016.6 385.5 1017.1 389.5 1017.8 398.2C1018.5 406.9 1019.3 424.8 1020.0 434.5C1020.7 444.2 1021.5 453.2 1022.2 456.4C1022.9 459.5 1023.6 458.3 1024.4 453.5C1025.1 448.6 1025.7 436.0 1026.5 427.3C1027.4 418.5 1028.4 406.9 1029.5 401.1C1030.5 395.3 1032.0 393.6 1033.1 392.4C1034.2 391.2 1035.0 390.9 1036.0 393.8C1037.0 396.7 1037.9 402.3 1038.9 409.8C1039.9 417.3 1040.7 433.3 1041.8 438.9C1042.9 444.5 1044.2 440.4 1045.5 443.3C1046.7 446.2 1047.8 453.0 1049.1 456.4C1050.4 459.8 1052.0 463.9 1053.5 463.6C1054.9 463.4 1056.2 457.1 1057.8 454.9C1059.4 452.7 1061.5 453.9 1062.9 450.5C1064.4 447.2 1065.3 439.2 1066.5 434.5C1067.8 429.9 1069.2 424.1 1070.2 422.9C1071.2 421.7 1071.6 422.2 1072.4 427.3C1073.1 432.4 1073.8 445.5 1074.5 453.5C1075.3 461.5 1076.0 472.8 1076.7 475.3C1077.5 477.7 1078.1 472.4 1078.9 468.0C1079.8 463.6 1080.8 451.0 1081.8 449.1C1082.8 447.2 1083.8 453.2 1084.7 456.4C1085.7 459.5 1086.7 468.0 1087.6 468.0C1088.6 468.0 1089.6 461.9 1090.5 456.4C1091.5 450.8 1092.4 439.9 1093.5 434.5C1094.5 429.2 1096.0 426.3 1097.1 424.4C1098.2 422.4 1099.1 423.8 1100.2 422.9C1101.2 422.1 1102.3 418.5 1103.4 419.3C1104.5 420.0 1105.7 421.1 1106.7 427.3C1107.8 433.5 1108.7 445.5 1109.6 456.4C1110.6 467.3 1111.6 483.0 1112.5 492.7C1113.5 502.4 1114.6 510.4 1115.5 514.5C1116.3 518.7 1116.8 518.7 1117.6 517.5C1118.5 516.2 1119.6 513.1 1120.5 507.3C1121.5 501.5 1122.5 489.6 1123.5 482.5C1124.4 475.5 1125.5 468.1 1126.4 465.1C1127.2 462.1 1127.6 463.6 1128.5 464.4C1129.5 465.1 1131.0 469.3 1132.2 469.5C1133.4 469.6 1134.7 467.5 1135.8 465.1C1136.9 462.7 1137.9 456.8 1138.7 454.9C1139.6 453.0 1140.2 451.3 1140.9 453.5C1141.6 455.6 1142.4 462.9 1143.1 468.0C1143.8 473.1 1144.4 481.6 1145.3 484.0C1146.1 486.4 1147.3 487.2 1148.2 482.5C1149.0 477.9 1149.5 464.8 1150.4 456.4C1151.2 447.9 1152.2 437.0 1153.3 431.6C1154.4 426.3 1155.3 426.4 1156.9 424.4C1158.5 422.3 1161.2 419.3 1162.7 419.3C1164.3 419.3 1165.3 419.4 1166.4 424.4C1167.5 429.3 1168.4 438.9 1169.3 449.1C1170.1 459.3 1170.7 474.5 1171.5 485.5C1172.2 496.4 1172.9 508.7 1173.6 514.5C1174.4 520.4 1175.1 521.6 1175.8 520.4C1176.5 519.2 1177.3 513.6 1178.0 507.3C1178.7 501.0 1179.2 487.6 1180.2 482.5C1181.2 477.5 1182.7 478.7 1183.8 476.7C1184.9 474.8 1185.8 475.3 1186.7 470.9C1187.7 466.5 1188.5 455.5 1189.6 450.5C1190.7 445.6 1192.2 442.5 1193.3 441.1C1194.4 439.6 1195.2 439.3 1196.2 441.8C1197.2 444.4 1198.1 451.6 1199.1 456.4C1200.1 461.1 1201.0 469.5 1202.0 470.2C1203.0 470.9 1203.9 463.5 1204.9 460.7C1205.9 457.9 1206.6 453.9 1207.8 453.5C1209.0 453.0 1210.7 455.6 1212.2 457.8C1213.6 460.0 1215.1 463.9 1216.5 466.5C1218.0 469.2 1219.7 468.2 1220.9 473.8C1222.1 479.4 1223.0 490.8 1223.8 500.0C1224.7 509.2 1225.3 523.8 1226.0 529.1C1226.7 534.4 1227.5 534.4 1228.2 532.0C1228.9 529.6 1229.5 518.7 1230.4 514.5C1231.2 510.4 1232.3 507.8 1233.3 507.3C1234.2 506.8 1235.1 509.2 1236.2 511.6C1237.3 514.1 1238.5 519.8 1239.8 521.8C1241.2 523.9 1242.5 524.0 1244.2 524.0C1245.9 524.0 1248.3 522.4 1250.0 521.8C1251.7 521.2 1253.2 524.0 1254.4 520.4C1255.6 516.7 1256.3 504.6 1257.3 500.0C1258.2 495.4 1258.7 494.1 1260.2 492.7C1261.6 491.4 1264.5 489.6 1266.0 492.0C1267.5 494.4 1268.1 503.5 1268.9 507.3C1269.8 511.0 1270.2 514.5 1271.1 514.5C1271.9 514.5 1273.0 514.5 1274.0 507.3C1275.0 500.0 1275.9 480.4 1276.9 470.9C1277.9 461.5 1279.0 454.4 1279.8 450.5C1280.7 446.7 1281.2 446.7 1282.0 447.6C1282.8 448.6 1283.9 448.8 1284.9 456.4C1285.9 463.9 1286.8 482.1 1287.8 492.7C1288.8 503.4 1289.9 515.5 1290.7 520.4C1291.6 525.2 1292.1 525.2 1292.9 521.8C1293.8 518.4 1294.8 509.0 1295.8 500.0C1296.8 491.0 1297.8 476.2 1298.7 468.0C1299.7 459.8 1300.8 453.7 1301.6 450.5C1302.5 447.4 1303.1 446.9 1303.8 449.1C1304.5 451.3 1305.3 459.0 1306.0 463.6C1306.7 468.2 1307.2 474.5 1308.2 476.7C1309.2 478.9 1310.7 472.8 1311.8 476.7C1312.9 480.6 1313.9 493.9 1314.7 500.0C1315.6 506.1 1316.1 511.9 1316.9 513.1C1317.8 514.3 1318.8 508.0 1319.8 507.3C1320.8 506.5 1321.6 508.7 1322.7 508.7C1323.8 508.7 1325.2 511.1 1326.4 507.3C1327.5 503.4 1328.1 489.9 1329.5 485.6C1330.9 481.3 1333.1 486.6 1334.6 481.5C1336.1 476.4 1337.3 462.4 1338.7 454.8C1340.1 447.3 1341.4 440.1 1342.8 436.4C1344.2 432.6 1345.7 431.9 1346.9 432.3C1348.1 432.6 1349.0 433.6 1350.0 438.4C1351.0 443.2 1351.9 458.6 1353.1 461.0C1354.3 463.4 1356.0 452.4 1357.2 452.8C1358.4 453.1 1359.2 455.9 1360.2 463.0C1361.3 470.2 1362.4 488.3 1363.3 495.9C1364.2 503.4 1364.9 509.5 1365.8 508.2C1366.6 506.8 1367.5 493.5 1368.4 487.6C1369.4 481.8 1370.3 479.4 1371.5 473.3C1372.7 467.1 1374.3 457.1 1375.6 450.7C1377.0 444.4 1378.5 437.4 1379.7 435.4C1380.9 433.3 1381.8 436.6 1382.8 438.4C1383.8 440.3 1384.7 448.3 1385.9 446.6C1387.1 444.9 1388.6 433.0 1390.0 428.2C1391.3 423.4 1392.9 419.3 1394.1 417.9C1395.3 416.6 1396.1 417.4 1397.2 420.0C1398.2 422.5 1399.2 431.6 1400.2 433.3C1401.3 435.0 1402.1 434.2 1403.3 430.2C1404.5 426.3 1405.9 415.2 1407.4 409.7C1408.9 404.3 1410.7 400.2 1412.5 397.4C1414.4 394.7 1416.6 393.0 1418.7 393.3C1420.7 393.7 1423.0 397.4 1424.8 399.5C1426.7 401.5 1428.4 403.2 1430.0 405.6C1431.5 408.0 1432.9 407.7 1434.1 413.8C1435.3 420.0 1436.1 431.3 1437.1 442.5C1438.2 453.8 1439.2 478.8 1440.2 481.5C1441.2 484.2 1442.3 469.5 1443.3 458.9C1444.3 448.3 1445.3 427.3 1446.4 417.9C1447.4 408.5 1448.4 403.9 1449.4 402.5C1450.5 401.2 1451.5 404.4 1452.5 409.7C1453.5 415.0 1454.6 427.5 1455.6 434.3C1456.6 441.2 1457.6 450.4 1458.7 450.7C1459.7 451.1 1460.7 444.6 1461.7 436.4C1462.8 428.2 1463.6 409.7 1464.8 401.5C1466.0 393.3 1467.0 390.2 1468.9 387.2C1470.8 384.2 1473.5 382.8 1476.1 383.5C1478.7 384.2 1481.9 389.1 1484.3 391.3C1486.7 393.4 1488.1 396.6 1490.5 396.4C1492.9 396.2 1495.9 392.8 1498.7 390.2C1501.4 387.7 1504.1 383.3 1506.9 381.0C1509.6 378.7 1512.3 377.5 1515.1 376.5C1517.8 375.5 1520.5 375.0 1523.3 374.9C1526.0 374.8 1529.1 374.7 1531.5 375.9C1533.9 377.1 1535.6 378.4 1537.6 382.0C1539.7 385.6 1541.7 392.0 1543.8 397.4C1545.8 402.9 1547.9 414.2 1549.9 414.8C1552.0 415.5 1554.0 405.6 1556.1 401.5C1558.1 397.4 1560.4 392.9 1562.2 390.2C1564.1 387.6 1565.6 384.3 1567.4 385.5C1569.1 386.7 1570.9 393.9 1572.5 397.4C1574.0 400.9 1575.2 407.7 1576.6 406.6C1578.0 405.6 1579.1 394.0 1580.7 391.3C1582.2 388.5 1583.8 389.2 1585.8 390.2C1587.9 391.3 1591.1 393.1 1593.0 397.4C1594.9 401.7 1596.0 411.6 1597.1 415.9C1598.2 420.1 1598.5 424.8 1599.6 423.1C1600.6 421.3 1601.9 409.9 1603.2 405.6C1604.5 401.3 1605.3 399.3 1607.3 397.4C1609.4 395.5 1613.2 395.0 1615.5 394.3C1617.9 393.7 1619.7 394.2 1621.7 393.7C1623.8 393.2 1626.8 391.7 1627.9 391.3"/>
<path class="cv" stroke="#505050" stroke-width="6.6" d="M25.6 268.9L27.4 269.7L29.7 269.1L32.3 269.6L35.4 269.5L38.7 269.1L42.2 269.0L45.8 268.2L49.5 269.3L53.1 269.1L56.7 268.4L60.2 268.0L63.4 268.5L66.3 268.8L68.8 269.1L70.9 268.4L76.8 269.8L78.8 271.6L80.8 272.8L84.2 271.8L87.5 271.1L90.5 269.3L93.4 269.7L96.5 271.1L98.4 274.3L100.5 276.6L102.8 280.0L105.1 283.6L107.1 285.9L111.0 284.2L114.6 282.0L118.1 283.8L122.1 286.9L125.0 285.5L128.3 284.1L131.5 283.8L134.2 283.2L137.5 283.9L140.2 286.2L142.6 289.8L145.1 292.6L147.8 293.9L149.8 293.9L151.8 291.3L154.1 287.3L156.8 284.6L159.4 284.2L162.4 282.4L165.6 281.6L168.8 279.5L171.9 279.9L174.9 279.0L178.0 278.9L181.0 277.5L184.1 278.0L187.0 278.2L190.5 276.7L194.0 277.1L197.3 276.7L200.5 277.0L203.6 278.2L206.5 279.9L209.3 282.1L212.0 282.2L214.5 281.3L216.7 279.2L219.0 276.4L221.7 273.8L224.2 273.3L226.8 272.3L230.1 270.2L235.2 269.2L237.4 269.0L239.7 269.0L242.1 268.7L244.7 269.1L247.5 268.3L250.4 267.9L253.5 267.1L256.7 267.2L260.1 267.5L263.7 266.8L267.5 265.8L271.4 266.0L273.9 265.5L276.5 266.1L279.3 266.6L282.2 266.4L285.1 265.1L288.2 266.2L291.3 265.3L294.5 266.1L297.8 265.2L301.0 265.7L304.3 265.3L307.5 264.7L310.8 265.1L314.0 265.6L317.1 264.9L320.2 265.0L323.3 264.8L326.2 265.5L329.0 264.4L331.7 264.8L335.2 265.2L338.7 265.2L342.1 264.6L345.4 264.5L348.7 265.3L351.9 264.4L355.1 265.4L358.1 265.5L361.1 264.2L364.0 264.6L366.8 264.5L369.5 264.6L372.1 265.1L374.6 265.3L377.0 264.8L380.8 264.0L383.8 263.6L386.4 263.5L388.6 263.1L391.0 262.4L393.6 261.9L396.9 262.2L401.1 261.7L403.4 261.9L405.9 262.1L408.5 261.0L411.3 261.0L414.1 261.1L417.1 261.9L420.2 261.9L423.4 260.9L426.6 261.0L429.8 261.3L433.1 260.7L436.4 261.2L439.6 261.5L442.9 261.4L446.1 261.9L449.3 261.6L452.4 261.8L455.5 260.9L458.7 261.1L461.9 261.2L465.3 261.4L468.7 261.1L472.1 261.0L475.5 259.9L478.8 259.9L482.2 260.0L485.4 259.9L488.6 260.1L491.7 259.4L494.6 260.0L497.4 260.0L500.0 259.8L502.4 259.8L504.6 259.2L509.6 259.4L513.2 259.5L515.9 260.0L518.2 261.6L520.5 261.0L523.4 261.2L526.2 261.7L529.0 261.5L531.7 260.3L534.6 260.9L537.8 259.9L541.2 259.9L545.1 259.4L547.6 259.7L550.4 258.4L553.3 258.5L556.4 258.5L559.5 258.8L562.7 258.4L566.0 257.8L569.2 258.3L572.4 258.0L575.5 257.9L578.5 257.9L581.3 257.3L584.9 257.0L588.3 256.2L591.7 257.0L594.9 256.9L598.1 255.9L601.2 255.9L604.3 255.3L607.3 255.5L610.3 255.2L613.6 254.5L616.7 254.2L619.8 253.6L622.8 253.6L625.8 253.5L628.7 252.9L631.8 253.4L634.9 252.6L638.1 252.5L641.4 253.2L644.8 253.5L648.1 254.3L651.5 254.4L654.7 255.2L657.9 256.3L661.0 255.9L664.3 256.4L667.5 255.9L670.5 255.8L673.5 256.6L676.5 256.2L679.6 255.1L682.7 255.2L686.0 255.4L689.5 255.2L693.0 254.4L696.4 253.1L699.8 253.6L703.0 252.7L705.8 252.8L709.9 253.1L713.1 251.8L716.3 252.0L720.0 252.1L722.7 252.4L725.2 252.7L727.9 253.6L731.0 253.4L734.7 254.1L739.3 253.5L741.7 253.2L744.3 253.7L747.1 253.0L750.1 252.8L753.2 251.8L756.5 251.5L759.8 251.2L763.1 250.5L766.4 250.5L769.7 250.9L772.9 250.3L776.0 250.0L778.9 248.9L781.6 249.7L785.0 249.4L788.1 248.3L791.0 249.3L793.8 248.7L796.5 248.9L799.2 248.1L801.9 248.1L804.9 248.7L808.2 247.9L811.7 247.7L814.3 248.4L817.0 248.6L819.8 248.1L822.7 247.0L825.7 247.3L828.7 247.1L831.8 246.1L835.0 246.5L838.1 246.2L841.3 246.2L844.5 245.6L847.7 245.0L850.8 244.7L853.9 244.9L857.0 244.7L860.0 244.9L863.2 245.4L866.4 244.6L869.7 245.7L873.1 244.9L876.4 245.7L879.7 245.4L882.9 244.9L886.1 245.4L889.1 244.9L892.1 245.0L894.9 245.5L897.5 245.7L900.0 245.9L902.2 246.7L907.7 245.9L911.8 246.4L915.0 247.6L917.6 247.5L920.0 248.1L924.7 251.8L927.3 254.2"/>
<path class="cv" stroke="#505050" stroke-width="6.4" d="M920.0 248.7C921.2 249.6 925.2 251.0 927.3 253.8C929.3 256.6 931.0 259.9 932.4 265.5C933.7 271.0 934.4 278.8 935.3 287.3C936.1 295.8 936.7 307.9 937.5 316.4C938.2 324.8 938.8 333.2 939.6 338.2C940.5 343.2 941.3 345.9 942.5 346.2C943.8 346.4 945.2 343.2 946.9 339.6C948.6 336.1 950.9 329.0 952.7 325.1C954.6 321.2 956.7 315.9 958.1 316.4C959.6 316.8 960.2 322.9 961.5 328.0C962.7 333.1 964.5 345.5 965.8 346.9C967.2 348.4 968.2 339.8 969.5 336.7C970.7 333.7 972.0 328.7 973.1 328.7C974.2 328.7 975.0 334.3 976.0 336.7C977.0 339.2 977.9 343.3 978.9 343.3C979.9 343.3 980.7 339.8 981.8 336.7C982.9 333.7 984.4 327.4 985.5 325.1C986.5 322.8 986.9 323.0 988.4 322.9C989.8 322.8 992.7 325.7 994.2 324.4C995.6 323.0 995.9 319.4 997.1 314.9C998.3 310.4 999.9 303.3 1001.5 297.5C1003.0 291.6 1004.8 284.4 1006.5 280.0C1008.2 275.6 1010.1 273.2 1011.6 271.3C1013.2 269.3 1014.8 268.1 1016.0 268.4C1017.2 268.6 1018.1 267.2 1018.9 272.7C1019.8 278.3 1020.4 290.9 1021.1 301.8C1021.8 312.7 1022.7 329.5 1023.3 338.2C1023.9 346.9 1024.1 353.9 1024.7 354.2C1025.3 354.4 1026.2 347.2 1026.9 339.6C1027.6 332.1 1028.2 317.3 1029.1 309.1C1029.9 300.8 1031.0 294.1 1032.0 290.2C1033.0 286.3 1034.1 285.1 1035.2 285.8C1036.3 286.5 1037.5 289.5 1038.5 294.5C1039.6 299.6 1040.5 311.0 1041.5 316.4C1042.4 321.7 1043.3 324.1 1044.4 326.5C1045.5 329.0 1046.7 327.8 1048.0 330.9C1049.3 334.1 1050.9 341.3 1052.4 345.5C1053.8 349.6 1055.4 354.7 1056.7 355.6C1058.1 356.6 1059.2 354.2 1060.4 351.3C1061.6 348.4 1062.8 343.3 1064.0 338.2C1065.2 333.1 1066.4 325.0 1067.6 320.7C1068.8 316.5 1070.2 312.2 1071.3 312.7C1072.4 313.2 1073.3 318.7 1074.2 323.6C1075.0 328.6 1075.6 339.6 1076.4 342.5C1077.1 345.5 1077.7 342.3 1078.5 341.1C1079.4 339.9 1080.4 335.5 1081.5 335.3C1082.5 335.0 1084.1 336.5 1085.1 339.6C1086.1 342.8 1086.6 350.5 1087.3 354.2C1087.9 357.8 1088.3 362.4 1089.0 361.5C1089.7 360.5 1090.7 355.4 1091.6 348.4C1092.6 341.3 1093.6 326.8 1094.5 319.3C1095.5 311.8 1096.4 306.9 1097.5 303.3C1098.5 299.6 1099.8 297.2 1101.1 297.5C1102.4 297.7 1104.1 300.4 1105.5 304.7C1106.8 309.1 1108.0 315.6 1109.1 323.6C1110.2 331.6 1111.2 343.0 1112.0 352.7C1112.8 362.4 1113.5 375.3 1114.2 381.8C1114.9 388.4 1115.4 391.0 1116.4 392.0C1117.3 393.0 1118.8 391.0 1120.0 387.6C1121.2 384.2 1122.3 378.7 1123.6 371.6C1125.0 364.6 1126.5 353.7 1128.0 345.5C1129.5 337.2 1131.0 328.2 1132.4 322.2C1133.7 316.1 1134.9 311.6 1136.0 309.1C1137.1 306.5 1137.8 305.7 1138.9 306.9C1140.0 308.1 1141.3 311.4 1142.5 316.4C1143.8 321.3 1145.2 333.0 1146.2 336.7C1147.2 340.5 1147.4 340.4 1148.4 338.9C1149.3 337.5 1150.8 333.0 1152.0 328.0C1153.2 323.0 1154.5 314.7 1155.6 309.1C1156.8 303.5 1157.6 299.2 1158.7 294.5C1159.8 289.9 1161.3 284.1 1162.4 281.5C1163.5 278.8 1164.3 278.3 1165.3 278.5C1166.2 278.8 1167.3 279.0 1168.2 282.9C1169.0 286.8 1169.8 293.8 1170.4 301.8C1171.0 309.8 1171.4 320.0 1171.8 330.9C1172.3 341.8 1172.5 357.1 1173.0 367.3C1173.4 377.5 1173.9 387.3 1174.4 392.0C1175.0 396.7 1175.5 398.5 1176.2 395.6C1176.8 392.7 1177.6 381.9 1178.4 374.5C1179.1 367.2 1179.3 355.6 1180.5 351.3C1181.8 346.9 1184.3 352.5 1185.6 348.4C1187.0 344.2 1187.6 333.3 1188.5 326.5C1189.5 319.8 1190.4 311.4 1191.5 307.6C1192.5 303.9 1193.7 302.5 1194.8 304.0C1195.9 305.5 1197.1 310.7 1198.0 316.4C1198.9 322.1 1199.5 333.0 1200.2 338.2C1200.9 343.4 1201.6 347.6 1202.4 347.6C1203.1 347.6 1203.8 342.7 1204.5 338.2C1205.3 333.7 1205.8 324.6 1206.7 320.7C1207.6 316.8 1208.7 314.4 1209.9 314.9C1211.1 315.4 1212.8 321.3 1214.0 323.6C1215.2 325.9 1215.7 327.8 1216.9 328.7C1218.1 329.7 1220.2 327.6 1221.3 329.5C1222.4 331.3 1222.7 333.3 1223.5 339.6C1224.2 345.9 1224.9 359.9 1225.6 367.3C1226.4 374.7 1227.1 382.8 1227.8 384.0C1228.5 385.2 1229.3 379.8 1230.0 374.5C1230.7 369.3 1231.3 361.2 1232.2 352.7C1233.0 344.2 1234.0 331.2 1235.1 323.6C1236.2 316.1 1237.4 311.3 1238.7 307.6C1240.1 304.0 1241.9 302.9 1243.1 301.8C1244.3 300.7 1245.0 300.4 1246.0 301.1C1247.0 301.8 1248.1 303.2 1248.9 306.2C1249.8 309.2 1250.3 315.9 1251.1 319.3C1251.9 322.7 1252.8 327.0 1253.6 326.5C1254.3 326.1 1254.9 319.8 1255.5 316.4C1256.0 313.0 1256.3 307.9 1256.9 306.2C1257.5 304.5 1258.4 303.8 1259.1 306.2C1259.8 308.6 1260.5 316.8 1261.3 320.7C1262.0 324.6 1262.7 327.3 1263.5 329.5C1264.2 331.6 1264.9 328.7 1265.6 333.8C1266.4 338.9 1267.1 351.0 1267.8 360.0C1268.5 369.0 1269.4 382.8 1270.0 387.6C1270.6 392.5 1270.8 391.3 1271.5 389.1C1272.1 386.9 1272.8 382.8 1273.6 374.5C1274.5 366.3 1275.5 349.8 1276.5 339.6C1277.6 329.5 1279.1 318.7 1280.2 313.5C1281.3 308.2 1282.2 308.4 1283.1 308.4C1283.9 308.4 1284.5 308.5 1285.3 313.5C1286.0 318.4 1286.7 329.2 1287.5 338.2C1288.2 347.2 1288.8 359.3 1289.6 367.3C1290.5 375.3 1291.7 382.8 1292.5 386.2C1293.4 389.6 1293.9 389.6 1294.7 387.6C1295.6 385.7 1296.3 381.3 1297.6 374.5C1299.0 367.8 1301.0 354.9 1302.7 346.9C1304.4 338.9 1306.5 331.9 1307.8 326.5C1309.2 321.2 1309.9 317.1 1310.7 314.9C1311.6 312.7 1312.2 312.0 1312.9 313.5C1313.6 314.9 1314.4 317.6 1315.1 323.6C1315.8 329.7 1316.5 344.0 1317.3 349.8C1318.0 355.6 1318.7 356.6 1319.5 358.5C1320.2 360.5 1320.9 356.4 1321.6 361.5C1322.4 366.5 1323.1 381.1 1323.8 389.1C1324.5 397.1 1325.3 406.5 1326.0 409.5C1326.7 412.4 1327.5 408.5 1328.2 406.5C1328.9 404.6 1329.5 399.0 1330.4 397.8C1331.2 396.6 1332.3 400.0 1333.3 399.3C1334.2 398.5 1335.2 398.8 1336.2 393.5C1337.2 388.1 1338.0 374.5 1339.1 367.3C1340.2 360.0 1341.5 354.1 1342.7 349.8C1343.9 345.6 1345.2 343.4 1346.4 341.8C1347.6 340.2 1349.0 339.5 1350.0 340.4C1351.0 341.2 1351.5 342.4 1352.2 346.9C1352.9 351.4 1353.8 361.2 1354.4 367.3C1355.0 373.3 1355.2 383.3 1355.8 383.3C1356.4 383.3 1357.3 372.6 1358.0 367.3C1358.7 361.9 1359.5 353.7 1360.2 351.3C1360.9 348.8 1361.5 350.1 1362.1 352.7C1362.7 355.4 1363.2 361.2 1363.8 367.3C1364.5 373.3 1365.3 387.4 1366.0 389.1C1366.7 390.8 1367.5 381.1 1368.2 377.5C1368.9 373.8 1369.4 369.0 1370.4 367.3C1371.3 365.6 1373.0 370.4 1374.0 367.3C1375.0 364.1 1375.2 354.4 1376.2 348.4C1377.2 342.3 1378.2 335.5 1379.8 330.9C1381.4 326.3 1384.0 322.9 1385.6 320.7C1387.3 318.6 1388.3 318.4 1389.8 318.1C1391.3 317.8 1393.3 316.8 1394.7 318.9C1396.0 320.9 1396.8 324.8 1397.9 330.3C1399.0 335.7 1400.1 350.1 1401.2 351.4C1402.3 352.8 1403.2 343.8 1404.4 338.4C1405.6 333.0 1406.9 323.8 1408.5 318.9C1410.1 314.0 1412.2 311.1 1414.2 309.1C1416.2 307.1 1418.9 306.9 1420.7 306.7C1422.5 306.4 1423.7 305.7 1424.8 307.5C1425.9 309.2 1426.3 315.1 1427.2 317.2C1428.2 319.4 1429.4 319.7 1430.5 320.5C1431.6 321.3 1432.8 319.1 1433.7 322.1C1434.7 325.1 1435.4 330.3 1436.2 338.4C1437.0 346.6 1437.9 360.9 1438.6 371.0C1439.3 381.0 1439.6 396.0 1440.3 398.7C1440.9 401.4 1441.9 394.6 1442.7 387.3C1443.5 379.9 1444.2 364.7 1445.1 354.7C1446.1 344.7 1447.2 333.3 1448.4 327.0C1449.6 320.8 1451.4 317.8 1452.5 317.2C1453.6 316.7 1454.1 319.4 1454.9 323.8C1455.7 328.1 1456.5 336.2 1457.4 343.3C1458.2 350.4 1459.0 362.3 1459.8 366.1C1460.6 369.9 1461.4 369.4 1462.2 366.1C1463.1 362.8 1463.7 353.6 1464.7 346.6C1465.6 339.5 1466.9 328.9 1467.9 323.8C1469.0 318.6 1469.6 317.5 1471.2 315.6C1472.8 313.7 1475.3 313.4 1477.7 312.4C1480.2 311.3 1483.7 308.6 1485.9 309.1C1488.0 309.7 1489.1 315.9 1490.7 315.6C1492.4 315.3 1493.7 309.1 1495.6 307.5C1497.5 305.9 1500.2 307.2 1502.1 305.9C1504.0 304.5 1504.8 301.0 1507.0 299.3C1509.2 297.7 1512.4 296.9 1515.2 296.1C1517.9 295.2 1520.6 294.5 1523.3 294.1C1526.0 293.7 1529.0 293.2 1531.4 293.6C1533.9 294.1 1536.1 295.1 1538.0 296.9C1539.9 298.7 1541.5 302.7 1542.8 304.2C1544.2 305.7 1545.2 303.7 1546.1 305.9C1547.1 308.0 1547.7 313.4 1548.5 317.2C1549.4 321.0 1550.0 327.6 1551.0 328.6C1551.9 329.7 1553.2 325.1 1554.2 323.8C1555.3 322.4 1556.1 321.3 1557.5 320.5C1558.9 319.7 1561.0 321.6 1562.4 318.9C1563.7 316.2 1564.3 307.5 1565.6 304.2C1567.0 301.0 1569.2 298.3 1570.5 299.3C1571.9 300.4 1572.7 304.5 1573.8 310.7C1574.9 317.0 1576.0 333.5 1577.0 336.8C1578.1 340.0 1579.2 334.6 1580.3 330.3C1581.4 325.9 1582.3 316.2 1583.6 310.7C1584.8 305.3 1586.4 300.3 1587.6 297.7C1588.9 295.1 1589.8 294.7 1590.9 295.3C1592.0 295.8 1593.1 295.1 1594.1 301.0C1595.2 306.8 1596.3 322.3 1597.4 330.3C1598.5 338.3 1599.6 347.6 1600.7 349.0C1601.7 350.4 1602.8 343.2 1603.9 338.4C1605.0 333.7 1605.9 323.9 1607.2 320.5C1608.4 317.1 1609.9 318.1 1611.2 318.1C1612.6 318.1 1614.2 321.5 1615.3 320.5C1616.4 319.6 1616.5 314.7 1617.8 312.4C1619.0 310.1 1620.9 307.5 1622.6 306.7C1624.4 305.9 1627.4 307.3 1628.3 307.5"/>
</g>
<text class="lb" style="font-size:74.5px" x="505.4" y="349.6">(b)</text>
<line x1="1020.4" y1="57.4" x2="1017.5" y2="1319" stroke="#0000ff" stroke-width="4.8" stroke-dasharray="19.8 7.3 5.6 7.8"/>
<line x1="1393.85" y1="55.4" x2="1392.3" y2="1317" stroke="#0000ff" stroke-width="4.8" stroke-dasharray="19.8 7.3 5.6 7.8"/>
<line x1="1020.6" y1="244.2" x2="1065.3" y2="200" stroke="#333" stroke-width="1.3"/>
<line x1="1396" y1="251.3" x2="1435" y2="210.5" stroke="#333" stroke-width="1.3"/>
<text class="an" transform="translate(1029.6 191.6) scale(1 1.01)">1531.31</text>
<text class="an" transform="translate(1412.7 200.7) scale(1 1.01)">908.79</text>
<g fill="#000">
<rect x="21.6" y="1321.2" width="1622.7" height="1.8" fill="#999"/>
<rect x="21.6" y="20.2" width="4.3" height="1306.8"/>
<rect x="1638.9" y="20.2" width="5.4" height="1306.8"/>
<rect x="21.6" y="20.2" width="1622.7" height="4.4"/>
<rect x="21.6" y="1322.85" width="1622.7" height="4.15"/>
<rect x="235.5" y="1326" width="4.2" height="23.2"/>
<rect x="479.7" y="1326" width="4.2" height="23.2"/>
<rect x="723.9" y="1326" width="4.2" height="23.2"/>
<rect x="968.1" y="1326" width="4.2" height="23.2"/>
<rect x="1212.3" y="1326" width="4.2" height="23.2"/>
<rect x="1456.5" y="1326" width="4.2" height="23.2"/>
</g>
<text class="tk" transform="translate(236.7 1425.6) scale(1 1.04)">2800</text>
<text class="tk" transform="translate(480.9 1425.6) scale(1 1.04)">2400</text>
<text class="tk" transform="translate(725.1 1425.6) scale(1 1.04)">2000</text>
<text class="tk" transform="translate(969.3 1425.6) scale(1 1.04)">1600</text>
<text class="tk" transform="translate(1213.5 1425.6) scale(1 1.04)">1200</text>
<text class="tk" transform="translate(1457.7 1425.6) scale(1 1.04)">800</text>
<text class="ax" transform="translate(524.3 1547.4) scale(1 1.02)">Wavenumber (cm<tspan font-size="47" dy="-27">-1</tspan><tspan dy="27" dx="3.5">)</tspan></text>
</svg>
</body></html>
